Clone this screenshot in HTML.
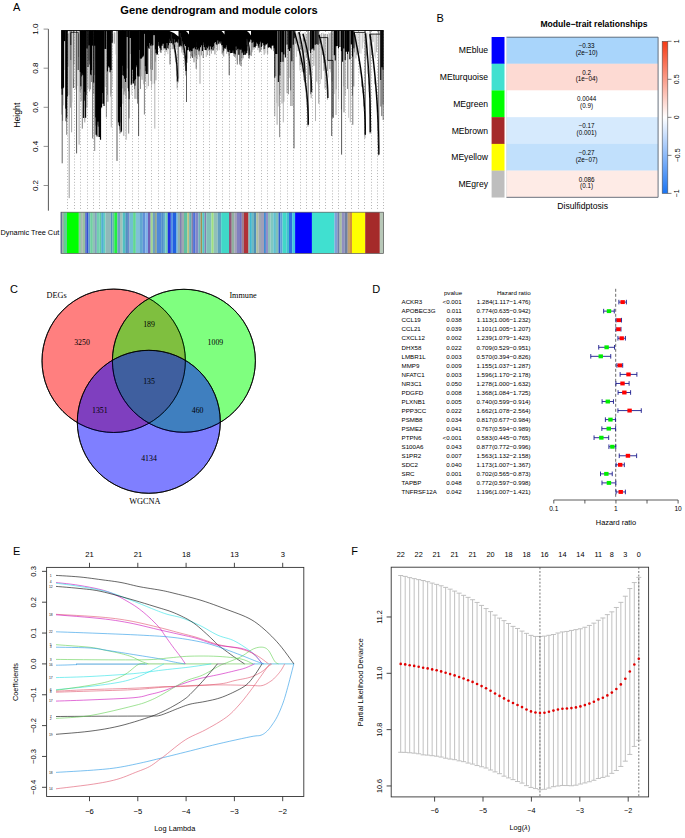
<!DOCTYPE html>
<html><head><meta charset="utf-8"><style>
html,body{margin:0;padding:0;background:#fff;width:685px;height:838px;overflow:hidden}
svg{display:block}
.F{font-family:"Liberation Sans",sans-serif}
.S{font-family:"Liberation Serif",serif}
</style></head><body>
<svg width="685" height="838" viewBox="0 0 685 838">
<rect width="685" height="838" fill="#fff"/>
<text x="13.00" y="11.20" font-size="11" text-anchor="start" class="F" fill="#000">A</text>
<text x="219.00" y="14.00" font-size="11.1" text-anchor="middle" class="F" font-weight="bold" fill="#000">Gene dendrogram and module colors</text>
<line x1="48.40" y1="29.10" x2="48.40" y2="210.70" stroke="#444" stroke-width="0.9"/>
<line x1="43.60" y1="185.50" x2="48.40" y2="185.50" stroke="#777" stroke-width="0.8"/>
<text x="38.00" y="185.50" font-size="8.0" text-anchor="middle" class="F" fill="#000" transform="rotate(-90 38.0 185.5)">0.2</text>
<line x1="43.60" y1="146.40" x2="48.40" y2="146.40" stroke="#777" stroke-width="0.8"/>
<text x="38.00" y="146.40" font-size="8.0" text-anchor="middle" class="F" fill="#000" transform="rotate(-90 38.0 146.4)">0.4</text>
<line x1="43.60" y1="107.30" x2="48.40" y2="107.30" stroke="#777" stroke-width="0.8"/>
<text x="38.00" y="107.30" font-size="8.0" text-anchor="middle" class="F" fill="#000" transform="rotate(-90 38.0 107.30000000000001)">0.6</text>
<line x1="43.60" y1="68.20" x2="48.40" y2="68.20" stroke="#777" stroke-width="0.8"/>
<text x="38.00" y="68.20" font-size="8.0" text-anchor="middle" class="F" fill="#000" transform="rotate(-90 38.0 68.19999999999997)">0.8</text>
<line x1="43.60" y1="29.10" x2="48.40" y2="29.10" stroke="#777" stroke-width="0.8"/>
<text x="38.00" y="29.10" font-size="8.0" text-anchor="middle" class="F" fill="#000" transform="rotate(-90 38.0 29.099999999999994)">1.0</text>
<text x="20.40" y="115.20" font-size="8.7" text-anchor="middle" class="F" fill="#000" transform="rotate(-90 20.4 115.2)">Height</text>
<line x1="67.50" y1="31.00" x2="67.50" y2="210.50" stroke="#B4B4B4" stroke-width="1.0" stroke-dasharray="1 1.9"/>
<line x1="74.50" y1="31.00" x2="74.50" y2="210.50" stroke="#B4B4B4" stroke-width="1.0" stroke-dasharray="1 1.9"/>
<line x1="80.50" y1="31.00" x2="80.50" y2="210.50" stroke="#B4B4B4" stroke-width="1.0" stroke-dasharray="1 1.9"/>
<line x1="87.50" y1="31.00" x2="87.50" y2="210.50" stroke="#B4B4B4" stroke-width="1.0" stroke-dasharray="1 1.9"/>
<line x1="93.50" y1="31.00" x2="93.50" y2="210.50" stroke="#B4B4B4" stroke-width="1.0" stroke-dasharray="1 1.9"/>
<line x1="99.50" y1="31.00" x2="99.50" y2="210.50" stroke="#B4B4B4" stroke-width="1.0" stroke-dasharray="1 1.9"/>
<line x1="106.50" y1="31.00" x2="106.50" y2="210.50" stroke="#B4B4B4" stroke-width="1.0" stroke-dasharray="1 1.9"/>
<line x1="112.50" y1="31.00" x2="112.50" y2="210.50" stroke="#B4B4B4" stroke-width="1.0" stroke-dasharray="1 1.9"/>
<line x1="119.50" y1="31.00" x2="119.50" y2="210.50" stroke="#B4B4B4" stroke-width="1.0" stroke-dasharray="1 1.9"/>
<line x1="125.50" y1="31.00" x2="125.50" y2="210.50" stroke="#B4B4B4" stroke-width="1.0" stroke-dasharray="1 1.9"/>
<line x1="132.50" y1="31.00" x2="132.50" y2="210.50" stroke="#B4B4B4" stroke-width="1.0" stroke-dasharray="1 1.9"/>
<line x1="138.50" y1="31.00" x2="138.50" y2="210.50" stroke="#B4B4B4" stroke-width="1.0" stroke-dasharray="1 1.9"/>
<line x1="145.50" y1="31.00" x2="145.50" y2="210.50" stroke="#B4B4B4" stroke-width="1.0" stroke-dasharray="1 1.9"/>
<line x1="151.50" y1="31.00" x2="151.50" y2="210.50" stroke="#B4B4B4" stroke-width="1.0" stroke-dasharray="1 1.9"/>
<line x1="158.50" y1="31.00" x2="158.50" y2="210.50" stroke="#B4B4B4" stroke-width="1.0" stroke-dasharray="1 1.9"/>
<line x1="164.50" y1="31.00" x2="164.50" y2="210.50" stroke="#B4B4B4" stroke-width="1.0" stroke-dasharray="1 1.9"/>
<line x1="170.50" y1="31.00" x2="170.50" y2="210.50" stroke="#B4B4B4" stroke-width="1.0" stroke-dasharray="1 1.9"/>
<line x1="177.50" y1="31.00" x2="177.50" y2="210.50" stroke="#B4B4B4" stroke-width="1.0" stroke-dasharray="1 1.9"/>
<line x1="183.50" y1="31.00" x2="183.50" y2="210.50" stroke="#B4B4B4" stroke-width="1.0" stroke-dasharray="1 1.9"/>
<line x1="190.50" y1="31.00" x2="190.50" y2="210.50" stroke="#B4B4B4" stroke-width="1.0" stroke-dasharray="1 1.9"/>
<line x1="196.50" y1="31.00" x2="196.50" y2="210.50" stroke="#B4B4B4" stroke-width="1.0" stroke-dasharray="1 1.9"/>
<line x1="203.50" y1="31.00" x2="203.50" y2="210.50" stroke="#B4B4B4" stroke-width="1.0" stroke-dasharray="1 1.9"/>
<line x1="209.50" y1="31.00" x2="209.50" y2="210.50" stroke="#B4B4B4" stroke-width="1.0" stroke-dasharray="1 1.9"/>
<line x1="216.50" y1="31.00" x2="216.50" y2="210.50" stroke="#B4B4B4" stroke-width="1.0" stroke-dasharray="1 1.9"/>
<line x1="222.50" y1="31.00" x2="222.50" y2="210.50" stroke="#B4B4B4" stroke-width="1.0" stroke-dasharray="1 1.9"/>
<line x1="229.50" y1="31.00" x2="229.50" y2="210.50" stroke="#B4B4B4" stroke-width="1.0" stroke-dasharray="1 1.9"/>
<line x1="235.50" y1="31.00" x2="235.50" y2="210.50" stroke="#B4B4B4" stroke-width="1.0" stroke-dasharray="1 1.9"/>
<line x1="241.50" y1="31.00" x2="241.50" y2="210.50" stroke="#B4B4B4" stroke-width="1.0" stroke-dasharray="1 1.9"/>
<line x1="248.50" y1="31.00" x2="248.50" y2="210.50" stroke="#B4B4B4" stroke-width="1.0" stroke-dasharray="1 1.9"/>
<line x1="254.50" y1="31.00" x2="254.50" y2="210.50" stroke="#B4B4B4" stroke-width="1.0" stroke-dasharray="1 1.9"/>
<line x1="261.50" y1="31.00" x2="261.50" y2="210.50" stroke="#B4B4B4" stroke-width="1.0" stroke-dasharray="1 1.9"/>
<line x1="267.50" y1="31.00" x2="267.50" y2="210.50" stroke="#B4B4B4" stroke-width="1.0" stroke-dasharray="1 1.9"/>
<line x1="274.50" y1="31.00" x2="274.50" y2="210.50" stroke="#B4B4B4" stroke-width="1.0" stroke-dasharray="1 1.9"/>
<line x1="280.50" y1="31.00" x2="280.50" y2="210.50" stroke="#B4B4B4" stroke-width="1.0" stroke-dasharray="1 1.9"/>
<line x1="287.50" y1="31.00" x2="287.50" y2="210.50" stroke="#B4B4B4" stroke-width="1.0" stroke-dasharray="1 1.9"/>
<line x1="293.50" y1="31.00" x2="293.50" y2="210.50" stroke="#B4B4B4" stroke-width="1.0" stroke-dasharray="1 1.9"/>
<line x1="300.50" y1="31.00" x2="300.50" y2="210.50" stroke="#B4B4B4" stroke-width="1.0" stroke-dasharray="1 1.9"/>
<line x1="306.50" y1="31.00" x2="306.50" y2="210.50" stroke="#B4B4B4" stroke-width="1.0" stroke-dasharray="1 1.9"/>
<line x1="312.50" y1="31.00" x2="312.50" y2="210.50" stroke="#B4B4B4" stroke-width="1.0" stroke-dasharray="1 1.9"/>
<line x1="319.50" y1="31.00" x2="319.50" y2="210.50" stroke="#B4B4B4" stroke-width="1.0" stroke-dasharray="1 1.9"/>
<line x1="325.50" y1="31.00" x2="325.50" y2="210.50" stroke="#B4B4B4" stroke-width="1.0" stroke-dasharray="1 1.9"/>
<line x1="332.50" y1="31.00" x2="332.50" y2="210.50" stroke="#B4B4B4" stroke-width="1.0" stroke-dasharray="1 1.9"/>
<line x1="338.50" y1="31.00" x2="338.50" y2="210.50" stroke="#B4B4B4" stroke-width="1.0" stroke-dasharray="1 1.9"/>
<line x1="345.50" y1="31.00" x2="345.50" y2="210.50" stroke="#B4B4B4" stroke-width="1.0" stroke-dasharray="1 1.9"/>
<line x1="351.50" y1="31.00" x2="351.50" y2="210.50" stroke="#B4B4B4" stroke-width="1.0" stroke-dasharray="1 1.9"/>
<line x1="358.50" y1="31.00" x2="358.50" y2="210.50" stroke="#B4B4B4" stroke-width="1.0" stroke-dasharray="1 1.9"/>
<line x1="364.50" y1="31.00" x2="364.50" y2="210.50" stroke="#B4B4B4" stroke-width="1.0" stroke-dasharray="1 1.9"/>
<line x1="371.50" y1="31.00" x2="371.50" y2="210.50" stroke="#B4B4B4" stroke-width="1.0" stroke-dasharray="1 1.9"/>
<line x1="377.50" y1="31.00" x2="377.50" y2="210.50" stroke="#B4B4B4" stroke-width="1.0" stroke-dasharray="1 1.9"/>
<line x1="383.50" y1="31.00" x2="383.50" y2="210.50" stroke="#B4B4B4" stroke-width="1.0" stroke-dasharray="1 1.9"/>
<line x1="62.20" y1="30.50" x2="62.20" y2="163.30" stroke="#333" stroke-width="0.75"/>
<line x1="69.20" y1="30.50" x2="69.20" y2="198.10" stroke="#777" stroke-width="0.75"/>
<line x1="66.70" y1="30.50" x2="66.70" y2="134.80" stroke="#555" stroke-width="0.75"/>
<line x1="71.60" y1="30.50" x2="71.60" y2="132.30" stroke="#888" stroke-width="0.75"/>
<line x1="76.60" y1="30.50" x2="76.60" y2="153.40" stroke="#222" stroke-width="0.75"/>
<line x1="79.10" y1="30.50" x2="79.10" y2="144.70" stroke="#888" stroke-width="0.75"/>
<line x1="82.30" y1="30.50" x2="82.30" y2="128.60" stroke="#555" stroke-width="0.75"/>
<line x1="84.80" y1="30.50" x2="84.80" y2="122.40" stroke="#777" stroke-width="0.75"/>
<line x1="92.70" y1="30.50" x2="92.70" y2="138.50" stroke="#333" stroke-width="0.75"/>
<line x1="94.70" y1="30.50" x2="94.70" y2="151.00" stroke="#666" stroke-width="0.75"/>
<line x1="97.70" y1="30.50" x2="97.70" y2="124.90" stroke="#555" stroke-width="0.75"/>
<line x1="106.40" y1="30.50" x2="106.40" y2="117.40" stroke="#666" stroke-width="0.75"/>
<line x1="111.30" y1="30.50" x2="111.30" y2="127.40" stroke="#999" stroke-width="0.75"/>
<line x1="117.00" y1="30.50" x2="117.00" y2="160.90" stroke="#222" stroke-width="0.75"/>
<line x1="120.00" y1="30.50" x2="120.00" y2="133.60" stroke="#555" stroke-width="0.75"/>
<line x1="123.80" y1="30.50" x2="123.80" y2="136.00" stroke="#888" stroke-width="0.75"/>
<line x1="126.20" y1="30.50" x2="126.20" y2="139.80" stroke="#999" stroke-width="0.75"/>
<line x1="128.70" y1="30.50" x2="128.70" y2="133.60" stroke="#555" stroke-width="0.75"/>
<line x1="138.60" y1="30.50" x2="138.60" y2="136.00" stroke="#222" stroke-width="0.75"/>
<line x1="144.40" y1="30.50" x2="144.40" y2="114.50" stroke="#555" stroke-width="0.75"/>
<line x1="154.80" y1="30.50" x2="154.80" y2="128.60" stroke="#999" stroke-width="0.75"/>
<line x1="73.40" y1="30.50" x2="73.40" y2="88.00" stroke="#222" stroke-width="0.75"/>
<line x1="70.80" y1="30.50" x2="70.80" y2="60.00" stroke="#222" stroke-width="0.75"/>
<line x1="170.00" y1="30.50" x2="170.00" y2="64.50" stroke="#333" stroke-width="0.75"/>
<line x1="178.00" y1="30.50" x2="178.00" y2="82.70" stroke="#888" stroke-width="0.75"/>
<line x1="186.50" y1="30.50" x2="186.50" y2="102.00" stroke="#222" stroke-width="0.75"/>
<line x1="192.50" y1="30.50" x2="192.50" y2="58.00" stroke="#333" stroke-width="0.75"/>
<line x1="194.00" y1="30.50" x2="194.00" y2="62.30" stroke="#555" stroke-width="0.75"/>
<line x1="196.20" y1="30.50" x2="196.20" y2="68.80" stroke="#444" stroke-width="0.75"/>
<line x1="200.00" y1="30.50" x2="200.00" y2="83.80" stroke="#888" stroke-width="0.75"/>
<line x1="203.20" y1="30.50" x2="203.20" y2="58.00" stroke="#444" stroke-width="0.75"/>
<line x1="222.20" y1="30.50" x2="222.20" y2="53.80" stroke="#333" stroke-width="0.75"/>
<line x1="229.20" y1="30.50" x2="229.20" y2="75.20" stroke="#222" stroke-width="0.75"/>
<line x1="233.00" y1="30.50" x2="233.00" y2="52.70" stroke="#333" stroke-width="0.75"/>
<line x1="237.30" y1="30.50" x2="237.30" y2="64.50" stroke="#444" stroke-width="0.75"/>
<line x1="241.00" y1="30.50" x2="241.00" y2="66.00" stroke="#333" stroke-width="0.75"/>
<line x1="239.70" y1="30.50" x2="239.70" y2="64.50" stroke="#555" stroke-width="0.75"/>
<line x1="251.20" y1="30.50" x2="251.20" y2="55.90" stroke="#444" stroke-width="0.75"/>
<line x1="277.10" y1="30.50" x2="277.10" y2="124.80" stroke="#888" stroke-width="0.75"/>
<line x1="279.60" y1="30.50" x2="279.60" y2="137.20" stroke="#666" stroke-width="0.75"/>
<line x1="283.30" y1="30.50" x2="283.30" y2="122.30" stroke="#999" stroke-width="0.75"/>
<line x1="294.00" y1="30.50" x2="294.00" y2="148.40" stroke="#222" stroke-width="0.75"/>
<line x1="290.50" y1="30.50" x2="290.50" y2="106.00" stroke="#999" stroke-width="0.75"/>
<line x1="292.00" y1="30.50" x2="292.00" y2="106.00" stroke="#555" stroke-width="0.75"/>
<line x1="308.10" y1="30.50" x2="308.10" y2="124.80" stroke="#222" stroke-width="0.75"/>
<line x1="315.50" y1="30.50" x2="315.50" y2="121.10" stroke="#999" stroke-width="0.75"/>
<line x1="318.80" y1="30.50" x2="318.80" y2="103.70" stroke="#777" stroke-width="0.75"/>
<line x1="331.70" y1="30.50" x2="331.70" y2="136.00" stroke="#222" stroke-width="0.75"/>
<line x1="333.00" y1="30.50" x2="333.00" y2="117.00" stroke="#666" stroke-width="0.75"/>
<line x1="336.00" y1="30.50" x2="336.00" y2="115.00" stroke="#888" stroke-width="0.75"/>
<line x1="341.60" y1="30.50" x2="341.60" y2="154.60" stroke="#222" stroke-width="0.75"/>
<line x1="344.00" y1="30.50" x2="344.00" y2="112.40" stroke="#555" stroke-width="0.75"/>
<line x1="350.30" y1="30.50" x2="350.30" y2="122.30" stroke="#999" stroke-width="0.75"/>
<line x1="352.80" y1="30.50" x2="352.80" y2="124.80" stroke="#444" stroke-width="0.75"/>
<line x1="365.20" y1="30.50" x2="365.20" y2="134.70" stroke="#222" stroke-width="0.75"/>
<line x1="370.10" y1="30.50" x2="370.10" y2="132.30" stroke="#444" stroke-width="0.75"/>
<line x1="378.80" y1="30.50" x2="378.80" y2="154.60" stroke="#222" stroke-width="0.75"/>
<line x1="381.80" y1="30.50" x2="381.80" y2="116.10" stroke="#333" stroke-width="0.75"/>
<line x1="383.20" y1="30.50" x2="383.20" y2="120.00" stroke="#444" stroke-width="0.75"/>
<line x1="61.65" y1="88.75" x2="61.65" y2="114.57" stroke="#777" stroke-width="0.6"/>
<line x1="62.17" y1="94.72" x2="62.17" y2="106.34" stroke="#999" stroke-width="0.6"/>
<line x1="62.58" y1="75.83" x2="62.58" y2="120.80" stroke="#333" stroke-width="0.6"/>
<line x1="63.58" y1="87.24" x2="63.58" y2="105.32" stroke="#AAA" stroke-width="0.6"/>
<line x1="64.73" y1="41.13" x2="64.73" y2="70.01" stroke="#AAA" stroke-width="0.6"/>
<line x1="65.70" y1="108.81" x2="65.70" y2="121.24" stroke="#333" stroke-width="0.6"/>
<line x1="66.21" y1="108.19" x2="66.21" y2="120.83" stroke="#777" stroke-width="0.6"/>
<line x1="66.70" y1="117.67" x2="66.70" y2="122.09" stroke="#555" stroke-width="0.6"/>
<line x1="68.00" y1="33.82" x2="68.00" y2="66.61" stroke="#555" stroke-width="0.6"/>
<line x1="68.98" y1="33.05" x2="68.98" y2="95.05" stroke="#888" stroke-width="0.6"/>
<line x1="70.54" y1="33.05" x2="70.54" y2="107.66" stroke="#555" stroke-width="0.6"/>
<line x1="71.97" y1="33.43" x2="71.97" y2="102.37" stroke="#AAA" stroke-width="0.6"/>
<line x1="73.11" y1="32.88" x2="73.11" y2="78.95" stroke="#BBB" stroke-width="0.6"/>
<line x1="74.06" y1="32.23" x2="74.06" y2="64.58" stroke="#555" stroke-width="0.6"/>
<line x1="75.00" y1="33.75" x2="75.00" y2="88.48" stroke="#BBB" stroke-width="0.6"/>
<line x1="76.10" y1="32.96" x2="76.10" y2="89.58" stroke="#555" stroke-width="0.6"/>
<line x1="77.66" y1="32.89" x2="77.66" y2="86.00" stroke="#BBB" stroke-width="0.6"/>
<line x1="78.60" y1="33.92" x2="78.60" y2="57.01" stroke="#888" stroke-width="0.6"/>
<line x1="80.25" y1="72.12" x2="80.25" y2="91.84" stroke="#555" stroke-width="0.6"/>
<line x1="80.81" y1="86.35" x2="80.81" y2="101.50" stroke="#777" stroke-width="0.6"/>
<line x1="81.35" y1="76.49" x2="81.35" y2="89.20" stroke="#555" stroke-width="0.6"/>
<line x1="81.80" y1="73.49" x2="81.80" y2="100.92" stroke="#777" stroke-width="0.6"/>
<line x1="82.78" y1="75.23" x2="82.78" y2="108.38" stroke="#AAA" stroke-width="0.6"/>
<line x1="84.16" y1="100.77" x2="84.16" y2="107.92" stroke="#999" stroke-width="0.6"/>
<line x1="84.57" y1="90.55" x2="84.57" y2="99.42" stroke="#777" stroke-width="0.6"/>
<line x1="86.02" y1="94.89" x2="86.02" y2="107.62" stroke="#777" stroke-width="0.6"/>
<line x1="87.09" y1="48.52" x2="87.09" y2="107.52" stroke="#888" stroke-width="0.6"/>
<line x1="88.05" y1="66.99" x2="88.05" y2="88.83" stroke="#555" stroke-width="0.6"/>
<line x1="89.53" y1="45.44" x2="89.53" y2="91.49" stroke="#666" stroke-width="0.6"/>
<line x1="89.00" y1="33.90" x2="89.00" y2="60.69" stroke="#555" stroke-width="0.6"/>
<line x1="90.56" y1="74.57" x2="90.56" y2="89.36" stroke="#555" stroke-width="0.6"/>
<line x1="91.56" y1="70.23" x2="91.56" y2="82.01" stroke="#333" stroke-width="0.6"/>
<line x1="92.72" y1="45.63" x2="92.72" y2="76.13" stroke="#AAA" stroke-width="0.6"/>
<line x1="93.71" y1="82.84" x2="93.71" y2="93.93" stroke="#555" stroke-width="0.6"/>
<line x1="95.17" y1="45.72" x2="95.17" y2="60.81" stroke="#AAA" stroke-width="0.6"/>
<line x1="94.40" y1="32.86" x2="94.40" y2="75.12" stroke="#555" stroke-width="0.6"/>
<line x1="95.65" y1="117.51" x2="95.65" y2="125.60" stroke="#777" stroke-width="0.6"/>
<line x1="98.03" y1="121.86" x2="98.03" y2="126.78" stroke="#555" stroke-width="0.6"/>
<line x1="98.54" y1="104.67" x2="98.54" y2="126.55" stroke="#333" stroke-width="0.6"/>
<line x1="99.50" y1="116.00" x2="99.50" y2="123.82" stroke="#777" stroke-width="0.6"/>
<line x1="101.05" y1="92.74" x2="101.05" y2="108.69" stroke="#999" stroke-width="0.6"/>
<line x1="103.54" y1="90.44" x2="103.54" y2="99.19" stroke="#333" stroke-width="0.6"/>
<line x1="105.43" y1="48.95" x2="105.43" y2="86.99" stroke="#AAA" stroke-width="0.6"/>
<line x1="105.40" y1="32.69" x2="105.40" y2="73.52" stroke="#BBB" stroke-width="0.6"/>
<line x1="106.66" y1="32.62" x2="106.66" y2="74.30" stroke="#AAA" stroke-width="0.6"/>
<line x1="107.45" y1="71.60" x2="107.45" y2="94.82" stroke="#777" stroke-width="0.6"/>
<line x1="107.86" y1="67.94" x2="107.86" y2="101.81" stroke="#333" stroke-width="0.6"/>
<line x1="110.62" y1="66.54" x2="110.62" y2="96.59" stroke="#777" stroke-width="0.6"/>
<line x1="111.10" y1="70.00" x2="111.10" y2="93.36" stroke="#777" stroke-width="0.6"/>
<line x1="112.12" y1="42.87" x2="112.12" y2="85.95" stroke="#AAA" stroke-width="0.6"/>
<line x1="112.70" y1="34.40" x2="112.70" y2="41.83" stroke="#888" stroke-width="0.6"/>
<line x1="114.28" y1="32.26" x2="114.28" y2="43.70" stroke="#555" stroke-width="0.6"/>
<line x1="115.81" y1="32.45" x2="115.81" y2="54.62" stroke="#BBB" stroke-width="0.6"/>
<line x1="117.31" y1="33.69" x2="117.31" y2="58.86" stroke="#BBB" stroke-width="0.6"/>
<line x1="118.45" y1="122.55" x2="118.45" y2="125.09" stroke="#555" stroke-width="0.6"/>
<line x1="119.46" y1="126.17" x2="119.46" y2="129.61" stroke="#333" stroke-width="0.6"/>
<line x1="119.91" y1="101.87" x2="119.91" y2="129.89" stroke="#999" stroke-width="0.6"/>
<line x1="120.50" y1="107.09" x2="120.50" y2="122.41" stroke="#555" stroke-width="0.6"/>
<line x1="122.75" y1="61.28" x2="122.75" y2="88.45" stroke="#666" stroke-width="0.6"/>
<line x1="122.85" y1="75.06" x2="122.85" y2="103.83" stroke="#999" stroke-width="0.6"/>
<line x1="123.97" y1="71.21" x2="123.97" y2="94.61" stroke="#555" stroke-width="0.6"/>
<line x1="125.02" y1="71.95" x2="125.02" y2="91.51" stroke="#333" stroke-width="0.6"/>
<line x1="125.54" y1="81.88" x2="125.54" y2="95.47" stroke="#999" stroke-width="0.6"/>
<line x1="126.12" y1="77.98" x2="126.12" y2="98.65" stroke="#777" stroke-width="0.6"/>
<line x1="127.16" y1="37.03" x2="127.16" y2="68.42" stroke="#888" stroke-width="0.6"/>
<line x1="128.66" y1="91.18" x2="128.66" y2="108.66" stroke="#999" stroke-width="0.6"/>
<line x1="129.11" y1="99.32" x2="129.11" y2="118.45" stroke="#333" stroke-width="0.6"/>
<line x1="130.27" y1="38.01" x2="130.27" y2="54.03" stroke="#888" stroke-width="0.6"/>
<line x1="129.90" y1="33.57" x2="129.90" y2="48.67" stroke="#CCC" stroke-width="0.6"/>
<line x1="131.80" y1="83.35" x2="131.80" y2="95.15" stroke="#AAA" stroke-width="0.6"/>
<line x1="134.51" y1="80.66" x2="134.51" y2="89.13" stroke="#555" stroke-width="0.6"/>
<line x1="135.04" y1="85.86" x2="135.04" y2="98.88" stroke="#333" stroke-width="0.6"/>
<line x1="137.06" y1="65.49" x2="137.06" y2="99.14" stroke="#555" stroke-width="0.6"/>
<line x1="137.51" y1="75.82" x2="137.51" y2="103.63" stroke="#333" stroke-width="0.6"/>
<line x1="138.53" y1="75.69" x2="138.53" y2="88.31" stroke="#777" stroke-width="0.6"/>
<line x1="140.23" y1="49.94" x2="140.23" y2="69.42" stroke="#666" stroke-width="0.6"/>
<line x1="140.45" y1="58.60" x2="140.45" y2="88.92" stroke="#333" stroke-width="0.6"/>
<line x1="141.05" y1="58.98" x2="141.05" y2="76.27" stroke="#999" stroke-width="0.6"/>
<line x1="142.05" y1="57.81" x2="142.05" y2="79.79" stroke="#555" stroke-width="0.6"/>
<line x1="143.44" y1="55.82" x2="143.44" y2="84.26" stroke="#999" stroke-width="0.6"/>
<line x1="144.53" y1="33.85" x2="144.53" y2="70.98" stroke="#888" stroke-width="0.6"/>
<line x1="145.44" y1="66.01" x2="145.44" y2="81.78" stroke="#777" stroke-width="0.6"/>
<line x1="146.85" y1="64.05" x2="146.85" y2="88.75" stroke="#AAA" stroke-width="0.6"/>
<line x1="148.36" y1="42.55" x2="148.36" y2="86.13" stroke="#666" stroke-width="0.6"/>
<line x1="147.95" y1="45.89" x2="147.95" y2="71.77" stroke="#999" stroke-width="0.6"/>
<line x1="150.57" y1="45.87" x2="150.57" y2="69.33" stroke="#777" stroke-width="0.6"/>
<line x1="151.05" y1="44.34" x2="151.05" y2="80.95" stroke="#333" stroke-width="0.6"/>
<line x1="151.48" y1="43.84" x2="151.48" y2="88.83" stroke="#999" stroke-width="0.6"/>
<line x1="151.99" y1="45.75" x2="151.99" y2="84.21" stroke="#999" stroke-width="0.6"/>
<line x1="152.42" y1="44.04" x2="152.42" y2="69.91" stroke="#333" stroke-width="0.6"/>
<line x1="154.26" y1="35.18" x2="154.26" y2="83.74" stroke="#666" stroke-width="0.6"/>
<line x1="155.45" y1="49.49" x2="155.45" y2="61.68" stroke="#888" stroke-width="0.6"/>
<line x1="155.92" y1="53.30" x2="155.92" y2="80.35" stroke="#666" stroke-width="0.6"/>
<line x1="160.18" y1="48.57" x2="160.18" y2="51.46" stroke="#444" stroke-width="0.6"/>
<line x1="160.64" y1="42.54" x2="160.64" y2="52.57" stroke="#444" stroke-width="0.6"/>
<line x1="161.10" y1="50.12" x2="161.10" y2="52.96" stroke="#444" stroke-width="0.6"/>
<line x1="162.14" y1="45.77" x2="162.14" y2="50.61" stroke="#AAA" stroke-width="0.6"/>
<line x1="163.53" y1="41.67" x2="163.53" y2="50.19" stroke="#AAA" stroke-width="0.6"/>
<line x1="165.13" y1="48.42" x2="165.13" y2="55.75" stroke="#AAA" stroke-width="0.6"/>
<line x1="166.23" y1="49.92" x2="166.23" y2="51.85" stroke="#666" stroke-width="0.6"/>
<line x1="167.23" y1="42.40" x2="167.23" y2="48.06" stroke="#666" stroke-width="0.6"/>
<line x1="167.82" y1="48.29" x2="167.82" y2="54.19" stroke="#AAA" stroke-width="0.6"/>
<line x1="168.42" y1="45.46" x2="168.42" y2="49.20" stroke="#444" stroke-width="0.6"/>
<line x1="172.21" y1="43.51" x2="172.21" y2="49.15" stroke="#444" stroke-width="0.6"/>
<line x1="172.75" y1="39.84" x2="172.75" y2="44.43" stroke="#444" stroke-width="0.6"/>
<line x1="175.73" y1="42.59" x2="175.73" y2="46.88" stroke="#444" stroke-width="0.6"/>
<line x1="176.65" y1="41.78" x2="176.65" y2="49.64" stroke="#AAA" stroke-width="0.6"/>
<line x1="178.21" y1="39.61" x2="178.21" y2="59.87" stroke="#888" stroke-width="0.6"/>
<line x1="178.66" y1="39.40" x2="178.66" y2="78.55" stroke="#666" stroke-width="0.6"/>
<line x1="180.71" y1="41.45" x2="180.71" y2="47.31" stroke="#666" stroke-width="0.6"/>
<line x1="181.74" y1="46.34" x2="181.74" y2="52.55" stroke="#888" stroke-width="0.6"/>
<line x1="182.22" y1="40.31" x2="182.22" y2="47.34" stroke="#666" stroke-width="0.6"/>
<line x1="187.71" y1="50.34" x2="187.71" y2="58.60" stroke="#AAA" stroke-width="0.6"/>
<line x1="190.56" y1="50.21" x2="190.56" y2="58.53" stroke="#666" stroke-width="0.6"/>
<line x1="191.50" y1="51.34" x2="191.50" y2="56.12" stroke="#666" stroke-width="0.6"/>
<line x1="192.04" y1="50.93" x2="192.04" y2="57.22" stroke="#444" stroke-width="0.6"/>
<line x1="193.06" y1="48.48" x2="193.06" y2="53.94" stroke="#AAA" stroke-width="0.6"/>
<line x1="193.55" y1="46.39" x2="193.55" y2="56.37" stroke="#AAA" stroke-width="0.6"/>
<line x1="194.60" y1="46.01" x2="194.60" y2="53.72" stroke="#888" stroke-width="0.6"/>
<line x1="195.09" y1="47.10" x2="195.09" y2="56.72" stroke="#444" stroke-width="0.6"/>
<line x1="195.55" y1="49.18" x2="195.55" y2="58.12" stroke="#AAA" stroke-width="0.6"/>
<line x1="196.11" y1="42.31" x2="196.11" y2="55.22" stroke="#444" stroke-width="0.6"/>
<line x1="197.61" y1="49.54" x2="197.61" y2="59.24" stroke="#888" stroke-width="0.6"/>
<line x1="198.62" y1="48.15" x2="198.62" y2="54.79" stroke="#666" stroke-width="0.6"/>
<line x1="199.49" y1="49.82" x2="199.49" y2="56.66" stroke="#888" stroke-width="0.6"/>
<line x1="201.37" y1="42.86" x2="201.37" y2="55.38" stroke="#444" stroke-width="0.6"/>
<line x1="206.25" y1="50.34" x2="206.25" y2="57.04" stroke="#888" stroke-width="0.6"/>
<line x1="207.20" y1="41.35" x2="207.20" y2="46.64" stroke="#666" stroke-width="0.6"/>
<line x1="207.61" y1="48.59" x2="207.61" y2="55.04" stroke="#666" stroke-width="0.6"/>
<line x1="208.61" y1="42.97" x2="208.61" y2="50.64" stroke="#444" stroke-width="0.6"/>
<line x1="209.65" y1="49.83" x2="209.65" y2="56.03" stroke="#666" stroke-width="0.6"/>
<line x1="210.07" y1="43.51" x2="210.07" y2="51.26" stroke="#888" stroke-width="0.6"/>
<line x1="211.47" y1="49.53" x2="211.47" y2="53.62" stroke="#666" stroke-width="0.6"/>
<line x1="213.46" y1="46.28" x2="213.46" y2="50.02" stroke="#666" stroke-width="0.6"/>
<line x1="214.51" y1="42.69" x2="214.51" y2="48.43" stroke="#666" stroke-width="0.6"/>
<line x1="214.94" y1="41.62" x2="214.94" y2="54.48" stroke="#444" stroke-width="0.6"/>
<line x1="217.26" y1="39.32" x2="217.26" y2="50.65" stroke="#444" stroke-width="0.6"/>
<line x1="217.79" y1="40.53" x2="217.79" y2="44.76" stroke="#666" stroke-width="0.6"/>
<line x1="219.19" y1="41.83" x2="219.19" y2="50.19" stroke="#AAA" stroke-width="0.6"/>
<line x1="221.21" y1="38.92" x2="221.21" y2="43.72" stroke="#666" stroke-width="0.6"/>
<line x1="223.25" y1="47.61" x2="223.25" y2="52.57" stroke="#444" stroke-width="0.6"/>
<line x1="223.73" y1="50.87" x2="223.73" y2="56.52" stroke="#444" stroke-width="0.6"/>
<line x1="226.78" y1="44.34" x2="226.78" y2="53.83" stroke="#666" stroke-width="0.6"/>
<line x1="228.84" y1="51.90" x2="228.84" y2="55.78" stroke="#666" stroke-width="0.6"/>
<line x1="230.25" y1="50.53" x2="230.25" y2="53.85" stroke="#AAA" stroke-width="0.6"/>
<line x1="231.25" y1="46.74" x2="231.25" y2="52.14" stroke="#AAA" stroke-width="0.6"/>
<line x1="233.78" y1="53.38" x2="233.78" y2="56.06" stroke="#666" stroke-width="0.6"/>
<line x1="234.80" y1="53.78" x2="234.80" y2="56.98" stroke="#444" stroke-width="0.6"/>
<line x1="235.30" y1="54.27" x2="235.30" y2="56.81" stroke="#666" stroke-width="0.6"/>
<line x1="236.25" y1="46.49" x2="236.25" y2="60.34" stroke="#AAA" stroke-width="0.6"/>
<line x1="238.43" y1="48.31" x2="238.43" y2="55.05" stroke="#AAA" stroke-width="0.6"/>
<line x1="239.36" y1="45.43" x2="239.36" y2="55.05" stroke="#666" stroke-width="0.6"/>
<line x1="239.95" y1="49.56" x2="239.95" y2="61.39" stroke="#444" stroke-width="0.6"/>
<line x1="241.64" y1="49.63" x2="241.64" y2="58.09" stroke="#666" stroke-width="0.6"/>
<line x1="242.13" y1="53.32" x2="242.13" y2="60.20" stroke="#888" stroke-width="0.6"/>
<line x1="243.14" y1="51.81" x2="243.14" y2="58.32" stroke="#444" stroke-width="0.6"/>
<line x1="244.74" y1="51.56" x2="244.74" y2="54.77" stroke="#444" stroke-width="0.6"/>
<line x1="245.19" y1="45.34" x2="245.19" y2="53.06" stroke="#AAA" stroke-width="0.6"/>
<line x1="247.83" y1="46.51" x2="247.83" y2="50.91" stroke="#666" stroke-width="0.6"/>
<line x1="252.06" y1="43.10" x2="252.06" y2="52.31" stroke="#666" stroke-width="0.6"/>
<line x1="252.53" y1="40.29" x2="252.53" y2="47.18" stroke="#888" stroke-width="0.6"/>
<line x1="253.01" y1="42.03" x2="253.01" y2="49.86" stroke="#666" stroke-width="0.6"/>
<line x1="253.57" y1="40.83" x2="253.57" y2="47.54" stroke="#444" stroke-width="0.6"/>
<line x1="254.66" y1="43.26" x2="254.66" y2="48.34" stroke="#AAA" stroke-width="0.6"/>
<line x1="256.80" y1="41.53" x2="256.80" y2="45.92" stroke="#444" stroke-width="0.6"/>
<line x1="257.85" y1="42.89" x2="257.85" y2="50.10" stroke="#888" stroke-width="0.6"/>
<line x1="259.40" y1="44.17" x2="259.40" y2="52.57" stroke="#666" stroke-width="0.6"/>
<line x1="260.32" y1="40.79" x2="260.32" y2="51.85" stroke="#444" stroke-width="0.6"/>
<line x1="260.89" y1="42.55" x2="260.89" y2="50.40" stroke="#888" stroke-width="0.6"/>
<line x1="261.34" y1="47.03" x2="261.34" y2="49.70" stroke="#666" stroke-width="0.6"/>
<line x1="263.73" y1="44.88" x2="263.73" y2="50.52" stroke="#AAA" stroke-width="0.6"/>
<line x1="264.16" y1="49.06" x2="264.16" y2="54.81" stroke="#666" stroke-width="0.6"/>
<line x1="265.20" y1="45.58" x2="265.20" y2="48.81" stroke="#888" stroke-width="0.6"/>
<line x1="265.75" y1="40.78" x2="265.75" y2="53.33" stroke="#AAA" stroke-width="0.6"/>
<line x1="267.66" y1="43.16" x2="267.66" y2="54.09" stroke="#666" stroke-width="0.6"/>
<line x1="271.54" y1="45.78" x2="271.54" y2="49.79" stroke="#666" stroke-width="0.6"/>
<line x1="273.60" y1="40.91" x2="273.60" y2="51.13" stroke="#444" stroke-width="0.6"/>
<line x1="274.80" y1="77.85" x2="274.80" y2="116.28" stroke="#666" stroke-width="0.6"/>
<line x1="275.88" y1="53.99" x2="275.88" y2="76.05" stroke="#333" stroke-width="0.6"/>
<line x1="276.80" y1="53.90" x2="276.80" y2="102.90" stroke="#AAA" stroke-width="0.6"/>
<line x1="278.36" y1="82.05" x2="278.36" y2="106.44" stroke="#AAA" stroke-width="0.6"/>
<line x1="279.91" y1="75.50" x2="279.91" y2="94.84" stroke="#666" stroke-width="0.6"/>
<line x1="281.98" y1="52.37" x2="281.98" y2="103.56" stroke="#666" stroke-width="0.6"/>
<line x1="283.94" y1="54.38" x2="283.94" y2="101.72" stroke="#888" stroke-width="0.6"/>
<line x1="286.98" y1="44.84" x2="286.98" y2="93.21" stroke="#666" stroke-width="0.6"/>
<line x1="288.35" y1="49.50" x2="288.35" y2="94.25" stroke="#333" stroke-width="0.6"/>
<line x1="289.58" y1="50.90" x2="289.58" y2="77.95" stroke="#AAA" stroke-width="0.6"/>
<line x1="290.60" y1="48.35" x2="290.60" y2="90.39" stroke="#333" stroke-width="0.6"/>
<line x1="293.30" y1="44.87" x2="293.30" y2="69.28" stroke="#888" stroke-width="0.6"/>
<line x1="294.82" y1="38.34" x2="294.82" y2="49.91" stroke="#AAA" stroke-width="0.6"/>
<line x1="296.40" y1="33.57" x2="296.40" y2="56.85" stroke="#AAA" stroke-width="0.6"/>
<line x1="297.53" y1="32.58" x2="297.53" y2="44.99" stroke="#AAA" stroke-width="0.6"/>
<line x1="298.53" y1="32.55" x2="298.53" y2="42.97" stroke="#BBB" stroke-width="0.6"/>
<line x1="299.81" y1="32.36" x2="299.81" y2="70.59" stroke="#AAA" stroke-width="0.6"/>
<line x1="301.01" y1="32.62" x2="301.01" y2="41.96" stroke="#CCC" stroke-width="0.6"/>
<line x1="302.49" y1="32.84" x2="302.49" y2="46.93" stroke="#BBB" stroke-width="0.6"/>
<line x1="303.47" y1="33.14" x2="303.47" y2="57.67" stroke="#888" stroke-width="0.6"/>
<line x1="305.06" y1="32.14" x2="305.06" y2="71.40" stroke="#888" stroke-width="0.6"/>
<line x1="306.35" y1="34.09" x2="306.35" y2="46.17" stroke="#888" stroke-width="0.6"/>
<line x1="307.93" y1="33.08" x2="307.93" y2="50.23" stroke="#888" stroke-width="0.6"/>
<line x1="309.47" y1="32.24" x2="309.47" y2="50.69" stroke="#888" stroke-width="0.6"/>
<line x1="310.60" y1="53.09" x2="310.60" y2="94.28" stroke="#333" stroke-width="0.6"/>
<line x1="311.81" y1="49.61" x2="311.81" y2="74.78" stroke="#888" stroke-width="0.6"/>
<line x1="313.89" y1="50.62" x2="313.89" y2="65.89" stroke="#666" stroke-width="0.6"/>
<line x1="315.29" y1="44.66" x2="315.29" y2="58.25" stroke="#AAA" stroke-width="0.6"/>
<line x1="316.72" y1="44.32" x2="316.72" y2="81.62" stroke="#666" stroke-width="0.6"/>
<line x1="318.03" y1="44.75" x2="318.03" y2="84.25" stroke="#AAA" stroke-width="0.6"/>
<line x1="319.40" y1="34.29" x2="319.40" y2="68.54" stroke="#AAA" stroke-width="0.6"/>
<line x1="320.53" y1="34.10" x2="320.53" y2="83.94" stroke="#BBB" stroke-width="0.6"/>
<line x1="321.50" y1="33.02" x2="321.50" y2="79.20" stroke="#888" stroke-width="0.6"/>
<line x1="323.01" y1="32.67" x2="323.01" y2="52.67" stroke="#AAA" stroke-width="0.6"/>
<line x1="323.93" y1="33.76" x2="323.93" y2="70.87" stroke="#555" stroke-width="0.6"/>
<line x1="325.08" y1="34.33" x2="325.08" y2="88.61" stroke="#555" stroke-width="0.6"/>
<line x1="326.07" y1="33.79" x2="326.07" y2="81.75" stroke="#AAA" stroke-width="0.6"/>
<line x1="327.51" y1="34.17" x2="327.51" y2="71.08" stroke="#555" stroke-width="0.6"/>
<line x1="328.62" y1="32.27" x2="328.62" y2="77.57" stroke="#BBB" stroke-width="0.6"/>
<line x1="329.88" y1="33.33" x2="329.88" y2="69.02" stroke="#555" stroke-width="0.6"/>
<line x1="330.95" y1="32.22" x2="330.95" y2="72.39" stroke="#888" stroke-width="0.6"/>
<line x1="331.92" y1="32.63" x2="331.92" y2="81.61" stroke="#555" stroke-width="0.6"/>
<line x1="332.83" y1="34.32" x2="332.83" y2="78.36" stroke="#AAA" stroke-width="0.6"/>
<line x1="334.30" y1="55.27" x2="334.30" y2="94.06" stroke="#AAA" stroke-width="0.6"/>
<line x1="336.20" y1="46.13" x2="336.20" y2="89.30" stroke="#888" stroke-width="0.6"/>
<line x1="338.46" y1="48.14" x2="338.46" y2="99.49" stroke="#AAA" stroke-width="0.6"/>
<line x1="341.44" y1="51.23" x2="341.44" y2="109.44" stroke="#333" stroke-width="0.6"/>
<line x1="343.75" y1="48.38" x2="343.75" y2="86.57" stroke="#888" stroke-width="0.6"/>
<line x1="345.22" y1="60.03" x2="345.22" y2="95.62" stroke="#888" stroke-width="0.6"/>
<line x1="347.45" y1="53.95" x2="347.45" y2="88.95" stroke="#333" stroke-width="0.6"/>
<line x1="348.51" y1="51.84" x2="348.51" y2="117.87" stroke="#AAA" stroke-width="0.6"/>
<line x1="352.46" y1="56.78" x2="352.46" y2="95.58" stroke="#333" stroke-width="0.6"/>
<line x1="353.79" y1="48.58" x2="353.79" y2="86.55" stroke="#333" stroke-width="0.6"/>
<line x1="354.40" y1="32.76" x2="354.40" y2="52.32" stroke="#555" stroke-width="0.6"/>
<line x1="355.34" y1="34.40" x2="355.34" y2="58.38" stroke="#AAA" stroke-width="0.6"/>
<line x1="356.30" y1="33.48" x2="356.30" y2="58.56" stroke="#BBB" stroke-width="0.6"/>
<line x1="357.29" y1="32.33" x2="357.29" y2="44.36" stroke="#BBB" stroke-width="0.6"/>
<line x1="358.59" y1="32.69" x2="358.59" y2="54.23" stroke="#CCC" stroke-width="0.6"/>
<line x1="359.69" y1="33.14" x2="359.69" y2="53.44" stroke="#888" stroke-width="0.6"/>
<line x1="361.05" y1="32.50" x2="361.05" y2="53.63" stroke="#BBB" stroke-width="0.6"/>
<line x1="362.57" y1="32.76" x2="362.57" y2="48.62" stroke="#AAA" stroke-width="0.6"/>
<line x1="363.49" y1="32.83" x2="363.49" y2="42.37" stroke="#CCC" stroke-width="0.6"/>
<line x1="364.66" y1="33.46" x2="364.66" y2="39.02" stroke="#AAA" stroke-width="0.6"/>
<line x1="365.68" y1="34.38" x2="365.68" y2="46.14" stroke="#AAA" stroke-width="0.6"/>
<line x1="366.92" y1="32.71" x2="366.92" y2="59.73" stroke="#AAA" stroke-width="0.6"/>
<line x1="367.86" y1="32.05" x2="367.86" y2="49.96" stroke="#CCC" stroke-width="0.6"/>
<line x1="369.37" y1="33.10" x2="369.37" y2="39.81" stroke="#BBB" stroke-width="0.6"/>
<line x1="370.85" y1="32.89" x2="370.85" y2="54.86" stroke="#CCC" stroke-width="0.6"/>
<line x1="371.91" y1="34.40" x2="371.91" y2="54.65" stroke="#888" stroke-width="0.6"/>
<line x1="373.10" y1="33.67" x2="373.10" y2="41.89" stroke="#888" stroke-width="0.6"/>
<line x1="374.43" y1="34.12" x2="374.43" y2="56.30" stroke="#CCC" stroke-width="0.6"/>
<line x1="375.40" y1="34.14" x2="375.40" y2="58.39" stroke="#BBB" stroke-width="0.6"/>
<line x1="376.49" y1="33.58" x2="376.49" y2="52.22" stroke="#888" stroke-width="0.6"/>
<line x1="377.68" y1="32.26" x2="377.68" y2="46.92" stroke="#CCC" stroke-width="0.6"/>
<line x1="378.99" y1="33.24" x2="378.99" y2="59.20" stroke="#CCC" stroke-width="0.6"/>
<line x1="380.70" y1="80.12" x2="380.70" y2="106.53" stroke="#333" stroke-width="0.6"/>
<line x1="381.87" y1="67.33" x2="381.87" y2="106.77" stroke="#888" stroke-width="0.6"/>
<line x1="383.01" y1="69.70" x2="383.01" y2="104.41" stroke="#333" stroke-width="0.6"/>
<path d="M61.65 30.5V88.75M62.17 30.5V94.72M62.58 30.5V75.83M63.17 30.5V88.28M63.58 30.5V87.24M65.70 30.5V108.81M66.21 30.5V108.19M66.70 30.5V117.67M67.24 30.5V96.51M80.25 30.5V72.12M80.81 30.5V86.35M81.35 30.5V76.49M81.80 30.5V73.49M82.25 30.5V71.70M82.78 30.5V75.23M83.65 30.5V117.89M84.16 30.5V100.77M84.57 30.5V90.55M85.09 30.5V91.63M85.60 30.5V117.80M86.02 30.5V94.89M88.05 30.5V66.99M90.05 30.5V64.41M90.56 30.5V74.57M91.12 30.5V75.22M91.56 30.5V70.23M93.71 30.5V82.84M95.65 30.5V117.51M96.07 30.5V134.82M96.56 30.5V127.32M96.99 30.5V136.55M97.51 30.5V117.04M98.03 30.5V121.86M98.54 30.5V104.67M99.05 30.5V137.03M99.50 30.5V116.00M100.01 30.5V137.34M100.55 30.5V139.85M101.05 30.5V92.74M101.61 30.5V107.56M102.04 30.5V93.07M102.46 30.5V90.59M102.97 30.5V103.65M103.54 30.5V90.44M104.04 30.5V106.11M107.45 30.5V71.60M107.86 30.5V67.94M108.44 30.5V66.42M108.98 30.5V66.21M109.57 30.5V67.57M110.05 30.5V72.31M110.62 30.5V66.54M111.10 30.5V70.00M118.45 30.5V122.55M118.94 30.5V100.10M119.46 30.5V126.17M119.91 30.5V101.87M120.50 30.5V107.09M121.09 30.5V132.16M121.52 30.5V130.84M122.25 30.5V65.81M122.85 30.5V75.06M123.38 30.5V75.65M123.97 30.5V71.21M124.54 30.5V78.65M125.02 30.5V71.95M125.54 30.5V81.88M126.12 30.5V77.98M128.20 30.5V88.13M128.66 30.5V91.18M129.11 30.5V99.32M131.25 30.5V84.64M131.80 30.5V83.35M132.33 30.5V69.57M132.91 30.5V69.84M133.41 30.5V83.42M133.98 30.5V78.52M134.51 30.5V80.66M135.04 30.5V85.86M135.57 30.5V79.35M136.06 30.5V67.18M136.61 30.5V65.34M137.06 30.5V65.49M137.51 30.5V75.82M138.01 30.5V76.42M138.53 30.5V75.69M139.06 30.5V76.59M140.45 30.5V58.60M141.05 30.5V58.98M141.45 30.5V57.92M142.05 30.5V57.81M142.46 30.5V53.59M142.91 30.5V56.76M143.44 30.5V55.82M145.44 30.5V66.01M145.84 30.5V71.19M146.27 30.5V73.92M146.85 30.5V64.05M147.26 30.5V73.90M147.95 30.5V45.89M148.53 30.5V47.83M149.11 30.5V48.66M149.65 30.5V42.92M150.14 30.5V43.10M150.57 30.5V45.87M151.05 30.5V44.34M151.48 30.5V43.84M151.99 30.5V45.75M152.42 30.5V44.04M152.89 30.5V45.19M155.45 30.5V49.49M155.92 30.5V53.30M156.50 30.5V49.58M156.96 30.5V54.87M157.45 30.5V54.24M158.25 30.5V42.03M158.76 30.5V45.70M159.20 30.5V42.76M159.77 30.5V47.87M160.18 30.5V48.57M160.64 30.5V42.54M161.10 30.5V50.12M161.56 30.5V45.63M162.14 30.5V45.77M162.60 30.5V41.55M163.09 30.5V43.74M163.53 30.5V41.67M164.09 30.5V48.22M164.68 30.5V44.25M165.13 30.5V48.42M165.71 30.5V45.86M166.23 30.5V49.92M166.77 30.5V43.06M167.23 30.5V42.40M167.82 30.5V48.29M168.42 30.5V45.46M169.25 30.5V38.63M169.72 30.5V43.03M170.13 30.5V40.83M170.57 30.5V40.14M171.25 30.5V42.96M171.66 30.5V38.24M172.21 30.5V43.51M172.75 30.5V39.84M173.20 30.5V40.84M173.67 30.5V39.43M174.26 30.5V39.00M174.82 30.5V42.72M175.29 30.5V40.13M175.73 30.5V42.59M176.24 30.5V38.86M176.65 30.5V41.78M177.08 30.5V40.75M177.75 30.5V42.73M178.21 30.5V39.61M178.66 30.5V39.40M179.25 30.5V46.69M179.81 30.5V44.15M180.31 30.5V45.39M180.71 30.5V41.45M181.19 30.5V45.75M181.74 30.5V46.34M182.22 30.5V40.31M182.78 30.5V42.32M183.20 30.5V39.49M183.68 30.5V45.22M184.19 30.5V44.15M184.78 30.5V44.26M185.33 30.5V45.88M186.25 30.5V60.62M186.73 30.5V62.76M187.15 30.5V49.73M187.71 30.5V50.34M188.25 30.5V45.72M188.71 30.5V47.21M189.20 30.5V50.02M189.63 30.5V51.39M190.04 30.5V51.22M190.56 30.5V50.21M191.09 30.5V43.99M191.50 30.5V51.34M192.04 30.5V50.93M192.51 30.5V45.91M193.06 30.5V48.48M193.55 30.5V46.39M194.04 30.5V48.17M194.60 30.5V46.01M195.09 30.5V47.10M195.55 30.5V49.18M196.11 30.5V42.31M196.71 30.5V46.92M197.14 30.5V49.85M197.61 30.5V49.54M198.10 30.5V44.57M198.62 30.5V48.15M199.05 30.5V51.32M199.49 30.5V49.82M199.98 30.5V47.21M200.43 30.5V47.35M200.90 30.5V45.77M201.37 30.5V42.86M201.87 30.5V45.12M202.46 30.5V50.92M202.90 30.5V44.93M203.37 30.5V42.52M203.78 30.5V42.59M204.29 30.5V47.34M204.71 30.5V45.68M205.12 30.5V49.98M205.53 30.5V43.48M206.25 30.5V50.34M206.77 30.5V46.95M207.20 30.5V41.35M207.61 30.5V48.59M208.05 30.5V47.01M208.61 30.5V42.97M209.16 30.5V45.79M209.65 30.5V49.83M210.07 30.5V43.51M210.52 30.5V46.50M211.02 30.5V43.82M211.47 30.5V49.53M211.91 30.5V42.83M212.39 30.5V46.94M212.97 30.5V50.48M213.46 30.5V46.28M213.93 30.5V43.32M214.51 30.5V42.69M214.94 30.5V41.62M215.48 30.5V41.96M216.25 30.5V44.20M216.82 30.5V44.86M217.26 30.5V39.32M217.79 30.5V40.53M218.26 30.5V40.35M218.67 30.5V43.79M219.19 30.5V41.83M219.69 30.5V39.23M220.21 30.5V43.48M220.66 30.5V41.56M221.21 30.5V38.92M221.73 30.5V45.15M222.16 30.5V44.18M222.60 30.5V45.03M223.25 30.5V47.61M223.73 30.5V50.87M224.19 30.5V46.29M224.79 30.5V48.29M225.30 30.5V48.87M225.82 30.5V47.22M226.33 30.5V45.25M226.78 30.5V44.34M227.24 30.5V49.52M227.78 30.5V51.70M228.25 30.5V44.39M228.84 30.5V51.90M229.44 30.5V49.92M230.25 30.5V50.53M230.65 30.5V52.93M231.25 30.5V46.74M231.70 30.5V52.92M232.23 30.5V52.84M232.80 30.5V50.57M233.24 30.5V44.83M233.78 30.5V53.38M234.26 30.5V48.50M234.80 30.5V53.78M235.30 30.5V54.27M236.25 30.5V46.49M236.79 30.5V50.14M237.30 30.5V48.95M237.83 30.5V48.74M238.43 30.5V48.31M238.85 30.5V54.86M239.36 30.5V45.43M239.95 30.5V49.56M240.48 30.5V49.64M241.07 30.5V48.28M241.64 30.5V49.63M242.13 30.5V53.32M242.67 30.5V49.78M243.14 30.5V51.81M243.61 30.5V55.02M244.18 30.5V54.75M244.74 30.5V51.56M245.19 30.5V45.34M245.62 30.5V54.73M246.20 30.5V51.27M246.78 30.5V53.37M247.25 30.5V46.29M247.83 30.5V46.51M248.34 30.5V45.85M248.79 30.5V42.88M249.25 30.5V40.76M249.71 30.5V41.76M250.24 30.5V39.80M250.65 30.5V38.87M251.21 30.5V39.20M251.64 30.5V40.02M252.06 30.5V43.10M252.53 30.5V40.29M253.01 30.5V42.03M253.57 30.5V40.83M254.25 30.5V46.94M254.66 30.5V43.26M255.19 30.5V47.51M255.71 30.5V46.10M256.25 30.5V42.50M256.80 30.5V41.53M257.33 30.5V43.86M257.85 30.5V42.89M258.36 30.5V45.68M258.86 30.5V47.83M259.40 30.5V44.17M259.89 30.5V41.54M260.32 30.5V40.79M260.89 30.5V42.55M261.34 30.5V47.03M261.75 30.5V46.12M262.34 30.5V42.86M262.74 30.5V40.78M263.16 30.5V43.36M263.73 30.5V44.88M264.16 30.5V49.06M264.65 30.5V44.01M265.20 30.5V45.58M265.75 30.5V40.78M266.20 30.5V44.02M266.65 30.5V44.58M267.10 30.5V42.02M267.66 30.5V43.16M268.23 30.5V47.67M268.70 30.5V41.39M269.14 30.5V47.18M269.66 30.5V46.55M270.11 30.5V47.18M270.53 30.5V47.67M271.04 30.5V48.45M271.54 30.5V45.78M271.99 30.5V45.68M272.57 30.5V42.79M273.14 30.5V43.88M273.60 30.5V40.91M274.20 30.5V48.18M274.80 30.5V77.85M275.88 30.5V53.99M276.80 30.5V53.90M278.36 30.5V82.05M279.91 30.5V75.50M280.80 30.5V62.11M281.98 30.5V52.37M283.00 30.5V61.83M283.94 30.5V54.38M285.39 30.5V57.38M286.98 30.5V44.84M288.35 30.5V49.50M289.58 30.5V50.90M290.60 30.5V48.35M291.83 30.5V61.27M293.30 30.5V44.87M294.82 30.5V38.34M310.60 30.5V53.09M311.81 30.5V49.61M312.84 30.5V48.46M313.89 30.5V50.62M315.29 30.5V44.66M316.72 30.5V44.32M318.03 30.5V44.75M334.30 30.5V55.27M335.27 30.5V60.45M336.20 30.5V46.13M337.18 30.5V46.11M338.46 30.5V48.14M339.88 30.5V46.93M341.44 30.5V51.23M342.62 30.5V61.82M343.75 30.5V48.38M345.22 30.5V60.03M346.30 30.5V51.87M347.45 30.5V53.95M348.51 30.5V51.84M349.85 30.5V59.29M351.37 30.5V44.43M352.46 30.5V56.78M353.79 30.5V48.58M380.70 30.5V80.12M381.87 30.5V67.33M383.01 30.5V69.70" stroke="#000" stroke-width="1.1" fill="none"/>
<rect x="63.85" y="30.50" width="1.54" height="10.63" fill="#000"/>
<rect x="86.24" y="30.50" width="1.52" height="18.02" fill="#000"/>
<rect x="88.25" y="30.50" width="2.35" height="14.94" fill="#000"/>
<rect x="91.82" y="30.50" width="1.59" height="15.13" fill="#000"/>
<rect x="93.88" y="30.50" width="2.39" height="15.22" fill="#000"/>
<rect x="104.33" y="30.50" width="2.01" height="18.45" fill="#000"/>
<rect x="111.31" y="30.50" width="1.42" height="12.37" fill="#000"/>
<rect x="121.73" y="30.50" width="1.85" height="30.78" fill="#000"/>
<rect x="126.23" y="30.50" width="1.67" height="6.53" fill="#000"/>
<rect x="129.27" y="30.50" width="1.80" height="7.51" fill="#000"/>
<rect x="139.19" y="30.50" width="1.89" height="19.44" fill="#000"/>
<rect x="143.72" y="30.50" width="1.42" height="3.35" fill="#000"/>
<rect x="147.53" y="30.50" width="1.45" height="12.05" fill="#000"/>
<rect x="153.03" y="30.50" width="2.27" height="4.68" fill="#000"/>
<path d="M70.8 45V32.3H78.2V70" stroke="#000" stroke-width="0.8" fill="none"/>
<path d="M171.00 31.00 L171.63 33.53 L172.24 36.06 L172.80 38.59 L173.34 41.12 L173.84 43.65 L174.31 46.18 L174.75 48.71 L175.16 51.24 L175.53 53.77 L175.88 56.30 L176.18 58.83 L176.46 61.36 L176.70 63.89 L176.91 66.42 L177.09 68.95 L177.24 71.48 L177.35 74.01 L177.44 76.54 L177.48 79.07 L177.50 81.60" stroke="#000" stroke-width="1.5" fill="none"/>
<line x1="171.33" y1="33.53" x2="171.33" y2="42.33" stroke="#444" stroke-width="0.5"/>
<line x1="172.50" y1="38.59" x2="172.50" y2="44.59" stroke="#444" stroke-width="0.5"/>
<line x1="173.54" y1="43.65" x2="173.54" y2="49.20" stroke="#444" stroke-width="0.5"/>
<line x1="174.45" y1="48.71" x2="174.45" y2="52.18" stroke="#444" stroke-width="0.5"/>
<line x1="175.23" y1="53.77" x2="175.23" y2="58.20" stroke="#444" stroke-width="0.5"/>
<line x1="175.88" y1="58.83" x2="175.88" y2="61.99" stroke="#444" stroke-width="0.5"/>
<line x1="176.40" y1="63.89" x2="176.40" y2="70.49" stroke="#444" stroke-width="0.5"/>
<line x1="176.79" y1="68.95" x2="176.79" y2="75.60" stroke="#444" stroke-width="0.5"/>
<line x1="177.05" y1="74.01" x2="177.05" y2="76.71" stroke="#444" stroke-width="0.5"/>
<line x1="177.18" y1="79.07" x2="177.18" y2="88.43" stroke="#444" stroke-width="0.5"/>
<path d="M180.00 31.00 L180.59 33.00 L181.14 35.00 L181.66 37.00 L182.16 39.00 L182.62 41.00 L183.06 43.00 L183.47 45.00 L183.84 47.00 L184.19 49.00 L184.50 51.00 L184.78 53.00 L185.04 55.00 L185.26 57.00 L185.46 59.00 L185.62 61.00 L185.76 63.00 L185.87 65.00 L185.94 67.00 L185.99 69.00 L186.00 71.00" stroke="#000" stroke-width="1.5" fill="none"/>
<line x1="180.28" y1="33.00" x2="180.28" y2="37.59" stroke="#444" stroke-width="0.5"/>
<line x1="181.36" y1="37.00" x2="181.36" y2="45.75" stroke="#444" stroke-width="0.5"/>
<line x1="182.32" y1="41.00" x2="182.32" y2="49.71" stroke="#444" stroke-width="0.5"/>
<line x1="183.16" y1="45.00" x2="183.16" y2="54.67" stroke="#444" stroke-width="0.5"/>
<line x1="183.88" y1="49.00" x2="183.88" y2="52.63" stroke="#444" stroke-width="0.5"/>
<line x1="184.48" y1="53.00" x2="184.48" y2="58.41" stroke="#444" stroke-width="0.5"/>
<line x1="184.96" y1="57.00" x2="184.96" y2="66.28" stroke="#444" stroke-width="0.5"/>
<line x1="185.32" y1="61.00" x2="185.32" y2="63.09" stroke="#444" stroke-width="0.5"/>
<line x1="185.56" y1="65.00" x2="185.56" y2="67.38" stroke="#444" stroke-width="0.5"/>
<line x1="185.69" y1="69.00" x2="185.69" y2="75.52" stroke="#444" stroke-width="0.5"/>
<path d="M247.00 38.00 L247.24 38.85 L247.47 39.70 L247.69 40.55 L247.90 41.40 L248.09 42.25 L248.28 43.10 L248.44 43.95 L248.60 44.80 L248.74 45.65 L248.88 46.50 L248.99 47.35 L249.10 48.20 L249.19 49.05 L249.28 49.90 L249.34 50.75 L249.40 51.60 L249.44 52.45 L249.47 53.30 L249.49 54.15 L249.50 55.00" stroke="#000" stroke-width="1.5" fill="none"/>
<line x1="246.94" y1="38.85" x2="246.94" y2="44.83" stroke="#444" stroke-width="0.5"/>
<line x1="247.39" y1="40.55" x2="247.39" y2="49.91" stroke="#444" stroke-width="0.5"/>
<line x1="247.79" y1="42.25" x2="247.79" y2="50.44" stroke="#444" stroke-width="0.5"/>
<line x1="248.14" y1="43.95" x2="248.14" y2="50.26" stroke="#444" stroke-width="0.5"/>
<line x1="248.44" y1="45.65" x2="248.44" y2="55.64" stroke="#444" stroke-width="0.5"/>
<line x1="248.69" y1="47.35" x2="248.69" y2="53.49" stroke="#444" stroke-width="0.5"/>
<line x1="248.89" y1="49.05" x2="248.89" y2="55.19" stroke="#444" stroke-width="0.5"/>
<line x1="249.04" y1="50.75" x2="249.04" y2="58.23" stroke="#444" stroke-width="0.5"/>
<line x1="249.14" y1="52.45" x2="249.14" y2="57.57" stroke="#444" stroke-width="0.5"/>
<line x1="249.19" y1="54.15" x2="249.19" y2="59.01" stroke="#444" stroke-width="0.5"/>
<path d="M294.50 32.40 L295.85 37.02 L297.12 41.64 L298.33 46.26 L299.47 50.88 L300.54 55.50 L301.54 60.12 L302.47 64.74 L303.33 69.36 L304.13 73.98 L304.85 78.60 L305.51 83.22 L306.09 87.84 L306.61 92.46 L307.06 97.08 L307.44 101.70 L307.75 106.32 L307.99 110.94 L308.16 115.56 L308.27 120.18 L308.30 124.80" stroke="#000" stroke-width="1.5" fill="none"/>
<line x1="295.55" y1="37.02" x2="295.55" y2="43.78" stroke="#444" stroke-width="0.5"/>
<line x1="298.03" y1="46.26" x2="298.03" y2="51.07" stroke="#444" stroke-width="0.5"/>
<line x1="300.24" y1="55.50" x2="300.24" y2="65.08" stroke="#444" stroke-width="0.5"/>
<line x1="302.17" y1="64.74" x2="302.17" y2="72.15" stroke="#444" stroke-width="0.5"/>
<line x1="303.83" y1="73.98" x2="303.83" y2="80.18" stroke="#444" stroke-width="0.5"/>
<line x1="305.21" y1="83.22" x2="305.21" y2="86.01" stroke="#444" stroke-width="0.5"/>
<line x1="306.31" y1="92.46" x2="306.31" y2="97.46" stroke="#444" stroke-width="0.5"/>
<line x1="307.14" y1="101.70" x2="307.14" y2="106.91" stroke="#444" stroke-width="0.5"/>
<line x1="307.69" y1="110.94" x2="307.69" y2="117.43" stroke="#444" stroke-width="0.5"/>
<line x1="307.97" y1="120.18" x2="307.97" y2="126.77" stroke="#444" stroke-width="0.5"/>
<path d="M298.90 32.00 L299.49 34.43 L300.06 36.86 L300.59 39.29 L301.10 41.72 L301.57 44.15 L302.01 46.58 L302.42 49.01 L302.80 51.44 L303.15 53.87 L303.48 56.30 L303.76 58.73 L304.02 61.16 L304.25 63.59 L304.45 66.02 L304.62 68.45 L304.76 70.88 L304.86 73.31 L304.94 75.74 L304.98 78.17 L305.00 80.60" stroke="#000" stroke-width="1.5" fill="none"/>
<line x1="299.19" y1="34.43" x2="299.19" y2="43.47" stroke="#444" stroke-width="0.5"/>
<line x1="300.29" y1="39.29" x2="300.29" y2="49.01" stroke="#444" stroke-width="0.5"/>
<line x1="301.27" y1="44.15" x2="301.27" y2="50.04" stroke="#444" stroke-width="0.5"/>
<line x1="302.12" y1="49.01" x2="302.12" y2="54.53" stroke="#444" stroke-width="0.5"/>
<line x1="302.85" y1="53.87" x2="302.85" y2="60.87" stroke="#444" stroke-width="0.5"/>
<line x1="303.46" y1="58.73" x2="303.46" y2="68.70" stroke="#444" stroke-width="0.5"/>
<line x1="303.95" y1="63.59" x2="303.95" y2="68.34" stroke="#444" stroke-width="0.5"/>
<line x1="304.32" y1="68.45" x2="304.32" y2="74.69" stroke="#444" stroke-width="0.5"/>
<line x1="304.56" y1="73.31" x2="304.56" y2="81.84" stroke="#444" stroke-width="0.5"/>
<line x1="304.68" y1="78.17" x2="304.68" y2="81.54" stroke="#444" stroke-width="0.5"/>
<path d="M303.00 34.00 L303.83 36.90 L304.62 39.80 L305.36 42.70 L306.06 45.60 L306.72 48.50 L307.33 51.40 L307.91 54.30 L308.44 57.20 L308.93 60.10 L309.38 63.00 L309.78 65.90 L310.14 68.80 L310.46 71.70 L310.74 74.60 L310.97 77.50 L311.16 80.40 L311.31 83.30 L311.42 86.20 L311.48 89.10 L311.50 92.00" stroke="#000" stroke-width="1.5" fill="none"/>
<line x1="303.53" y1="36.90" x2="303.53" y2="41.44" stroke="#444" stroke-width="0.5"/>
<line x1="305.06" y1="42.70" x2="305.06" y2="52.53" stroke="#444" stroke-width="0.5"/>
<line x1="306.42" y1="48.50" x2="306.42" y2="57.11" stroke="#444" stroke-width="0.5"/>
<line x1="307.61" y1="54.30" x2="307.61" y2="60.40" stroke="#444" stroke-width="0.5"/>
<line x1="308.63" y1="60.10" x2="308.63" y2="62.98" stroke="#444" stroke-width="0.5"/>
<line x1="309.48" y1="65.90" x2="309.48" y2="75.06" stroke="#444" stroke-width="0.5"/>
<line x1="310.16" y1="71.70" x2="310.16" y2="79.22" stroke="#444" stroke-width="0.5"/>
<line x1="310.67" y1="77.50" x2="310.67" y2="86.06" stroke="#444" stroke-width="0.5"/>
<line x1="311.01" y1="83.30" x2="311.01" y2="93.22" stroke="#444" stroke-width="0.5"/>
<line x1="311.18" y1="89.10" x2="311.18" y2="98.21" stroke="#444" stroke-width="0.5"/>
<path d="M319.00 35.00 L319.86 38.15 L320.67 41.30 L321.44 44.45 L322.17 47.60 L322.85 50.75 L323.49 53.90 L324.08 57.05 L324.63 60.20 L325.14 63.35 L325.60 66.50 L326.02 69.65 L326.39 72.80 L326.72 75.95 L327.01 79.10 L327.25 82.25 L327.45 85.40 L327.60 88.55 L327.71 91.70 L327.78 94.85 L327.80 98.00" stroke="#000" stroke-width="1.5" fill="none"/>
<line x1="319.56" y1="38.15" x2="319.56" y2="43.52" stroke="#444" stroke-width="0.5"/>
<line x1="321.14" y1="44.45" x2="321.14" y2="47.70" stroke="#444" stroke-width="0.5"/>
<line x1="322.55" y1="50.75" x2="322.55" y2="55.07" stroke="#444" stroke-width="0.5"/>
<line x1="323.78" y1="57.05" x2="323.78" y2="63.14" stroke="#444" stroke-width="0.5"/>
<line x1="324.84" y1="63.35" x2="324.84" y2="69.39" stroke="#444" stroke-width="0.5"/>
<line x1="325.72" y1="69.65" x2="325.72" y2="73.15" stroke="#444" stroke-width="0.5"/>
<line x1="326.42" y1="75.95" x2="326.42" y2="79.41" stroke="#444" stroke-width="0.5"/>
<line x1="326.95" y1="82.25" x2="326.95" y2="89.29" stroke="#444" stroke-width="0.5"/>
<line x1="327.30" y1="88.55" x2="327.30" y2="95.38" stroke="#444" stroke-width="0.5"/>
<line x1="327.48" y1="94.85" x2="327.48" y2="99.68" stroke="#444" stroke-width="0.5"/>
<path d="M354.00 32.40 L355.10 37.52 L356.15 42.63 L357.14 47.74 L358.07 52.86 L358.94 57.97 L359.76 63.09 L360.53 68.20 L361.23 73.32 L361.88 78.44 L362.48 83.55 L363.01 88.66 L363.49 93.78 L363.92 98.89 L364.28 104.01 L364.59 109.12 L364.85 114.24 L365.05 119.35 L365.19 124.47 L365.27 129.58 L365.30 134.70" stroke="#000" stroke-width="1.5" fill="none"/>
<line x1="354.80" y1="37.52" x2="354.80" y2="47.46" stroke="#444" stroke-width="0.5"/>
<line x1="356.84" y1="47.74" x2="356.84" y2="54.84" stroke="#444" stroke-width="0.5"/>
<line x1="358.64" y1="57.97" x2="358.64" y2="60.31" stroke="#444" stroke-width="0.5"/>
<line x1="360.23" y1="68.20" x2="360.23" y2="73.50" stroke="#444" stroke-width="0.5"/>
<line x1="361.58" y1="78.44" x2="361.58" y2="86.74" stroke="#444" stroke-width="0.5"/>
<line x1="362.71" y1="88.66" x2="362.71" y2="93.12" stroke="#444" stroke-width="0.5"/>
<line x1="363.62" y1="98.89" x2="363.62" y2="106.42" stroke="#444" stroke-width="0.5"/>
<line x1="364.29" y1="109.12" x2="364.29" y2="111.16" stroke="#444" stroke-width="0.5"/>
<line x1="364.75" y1="119.35" x2="364.75" y2="123.79" stroke="#444" stroke-width="0.5"/>
<line x1="364.97" y1="129.58" x2="364.97" y2="138.32" stroke="#444" stroke-width="0.5"/>
<path d="M365.50 33.30 L365.98 38.25 L366.43 43.20 L366.86 48.15 L367.26 53.10 L367.64 58.05 L368.00 63.00 L368.33 67.95 L368.64 72.90 L368.92 77.85 L369.17 82.80 L369.41 87.75 L369.62 92.70 L369.80 97.65 L369.96 102.60 L370.09 107.55 L370.20 112.50 L370.29 117.45 L370.35 122.40 L370.39 127.35 L370.40 132.30" stroke="#000" stroke-width="1.5" fill="none"/>
<line x1="365.68" y1="38.25" x2="365.68" y2="44.94" stroke="#444" stroke-width="0.5"/>
<line x1="366.56" y1="48.15" x2="366.56" y2="55.49" stroke="#444" stroke-width="0.5"/>
<line x1="367.34" y1="58.05" x2="367.34" y2="61.62" stroke="#444" stroke-width="0.5"/>
<line x1="368.03" y1="67.95" x2="368.03" y2="73.93" stroke="#444" stroke-width="0.5"/>
<line x1="368.62" y1="77.85" x2="368.62" y2="84.28" stroke="#444" stroke-width="0.5"/>
<line x1="369.11" y1="87.75" x2="369.11" y2="91.88" stroke="#444" stroke-width="0.5"/>
<line x1="369.50" y1="97.65" x2="369.50" y2="104.82" stroke="#444" stroke-width="0.5"/>
<line x1="369.79" y1="107.55" x2="369.79" y2="113.80" stroke="#444" stroke-width="0.5"/>
<line x1="369.99" y1="117.45" x2="369.99" y2="127.43" stroke="#444" stroke-width="0.5"/>
<line x1="370.09" y1="127.35" x2="370.09" y2="133.95" stroke="#444" stroke-width="0.5"/>
<path d="M369.90 34.10 L370.76 40.12 L371.57 46.15 L372.34 52.17 L373.07 58.20 L373.75 64.22 L374.39 70.25 L374.98 76.28 L375.53 82.30 L376.04 88.33 L376.50 94.35 L376.92 100.38 L377.29 106.40 L377.62 112.43 L377.91 118.45 L378.15 124.47 L378.35 130.50 L378.50 136.53 L378.61 142.55 L378.68 148.57 L378.70 154.60" stroke="#000" stroke-width="1.5" fill="none"/>
<line x1="370.46" y1="40.12" x2="370.46" y2="45.41" stroke="#444" stroke-width="0.5"/>
<line x1="372.04" y1="52.17" x2="372.04" y2="55.15" stroke="#444" stroke-width="0.5"/>
<line x1="373.45" y1="64.22" x2="373.45" y2="67.48" stroke="#444" stroke-width="0.5"/>
<line x1="374.68" y1="76.28" x2="374.68" y2="84.35" stroke="#444" stroke-width="0.5"/>
<line x1="375.74" y1="88.33" x2="375.74" y2="91.18" stroke="#444" stroke-width="0.5"/>
<line x1="376.62" y1="100.38" x2="376.62" y2="103.18" stroke="#444" stroke-width="0.5"/>
<line x1="377.32" y1="112.43" x2="377.32" y2="115.79" stroke="#444" stroke-width="0.5"/>
<line x1="377.85" y1="124.47" x2="377.85" y2="130.65" stroke="#444" stroke-width="0.5"/>
<line x1="378.20" y1="136.53" x2="378.20" y2="145.11" stroke="#444" stroke-width="0.5"/>
<line x1="378.38" y1="148.57" x2="378.38" y2="155.48" stroke="#444" stroke-width="0.5"/>
<path d="M319 37.6H327.8V60.4H333V118" stroke="#000" stroke-width="0.8" fill="none"/>
<path d="M354 32.4H365.5M369.9 34.1H380.4" stroke="#000" stroke-width="0.8" fill="none"/>
<path d="M270.2 40 Q271 33 274.4 33.3 L274.4 45.5 Q271 46 270.2 44 Z" fill="#000"/>
<path d="M169.5 30.9L178.5 30.9L178.5 36.5Q174.0 32.0 169.5 30.9Z" fill="#fff"/>
<path d="M186 30.9L189 30.9L189 34.5Q187.5 32.0 186 30.9Z" fill="#fff"/>
<path d="M221.5 30.9L224.5 30.9L224.5 34.5Q223.0 32.0 221.5 30.9Z" fill="#fff"/>
<path d="M247 30.9L251 30.9L251 35.5Q249.0 32.0 247 30.9Z" fill="#fff"/>
<line x1="61.20" y1="30.50" x2="383.60" y2="30.50" stroke="#000" stroke-width="0.9"/>
<rect x="60.90" y="212.20" width="1.35" height="41.20" fill="#7080C0"/>
<rect x="62.20" y="212.20" width="1.75" height="41.20" fill="#90B0A0"/>
<rect x="63.90" y="212.20" width="3.15" height="41.20" fill="#60D090"/>
<rect x="67.00" y="212.20" width="11.85" height="41.20" fill="#00FF00"/>
<rect x="78.80" y="212.20" width="2.25" height="41.20" fill="#90C8A0"/>
<rect x="81.00" y="212.20" width="1.85" height="41.20" fill="#A8B8B0"/>
<rect x="82.80" y="212.20" width="2.25" height="41.20" fill="#98C0A0"/>
<rect x="85.00" y="212.20" width="1.35" height="41.20" fill="#7080C8"/>
<rect x="86.30" y="212.20" width="2.25" height="41.20" fill="#3050D0"/>
<rect x="88.50" y="212.20" width="1.75" height="41.20" fill="#60A0C8"/>
<rect x="90.20" y="212.20" width="2.65" height="41.20" fill="#70D0A0"/>
<rect x="92.80" y="212.20" width="2.25" height="41.20" fill="#90C0B8"/>
<rect x="95.00" y="212.20" width="1.85" height="41.20" fill="#80A0C0"/>
<rect x="96.80" y="212.20" width="2.65" height="41.20" fill="#70D0B0"/>
<rect x="99.40" y="212.20" width="1.85" height="41.20" fill="#60C8A0"/>
<rect x="101.20" y="212.20" width="2.65" height="41.20" fill="#50B0D0"/>
<rect x="103.80" y="212.20" width="1.75" height="41.20" fill="#60D0C0"/>
<rect x="105.50" y="212.20" width="5.35" height="41.20" fill="#90B8B8"/>
<rect x="110.80" y="212.20" width="1.75" height="41.20" fill="#5090C0"/>
<rect x="112.50" y="212.20" width="1.85" height="41.20" fill="#60C0A0"/>
<rect x="114.30" y="212.20" width="3.15" height="41.20" fill="#20F040"/>
<rect x="117.40" y="212.20" width="2.65" height="41.20" fill="#70A0C0"/>
<rect x="120.00" y="212.20" width="2.65" height="41.20" fill="#A0C0B8"/>
<rect x="122.60" y="212.20" width="2.75" height="41.20" fill="#50C0C0"/>
<rect x="125.30" y="212.20" width="2.65" height="41.20" fill="#5090C0"/>
<rect x="127.90" y="212.20" width="1.75" height="41.20" fill="#7088C8"/>
<rect x="129.60" y="212.20" width="3.55" height="41.20" fill="#70C0D0"/>
<rect x="133.10" y="212.20" width="2.75" height="41.20" fill="#60D890"/>
<rect x="135.80" y="212.20" width="3.55" height="41.20" fill="#80C0D8"/>
<rect x="139.30" y="212.20" width="3.55" height="41.20" fill="#60A8D0"/>
<rect x="142.80" y="212.20" width="2.65" height="41.20" fill="#6090D8"/>
<rect x="145.40" y="212.20" width="2.65" height="41.20" fill="#80B0E8"/>
<rect x="148.00" y="212.20" width="2.65" height="41.20" fill="#7060B8"/>
<rect x="150.60" y="212.20" width="2.25" height="41.20" fill="#A0D890"/>
<rect x="152.80" y="212.20" width="2.25" height="41.20" fill="#70A0C0"/>
<rect x="155.00" y="212.20" width="1.85" height="41.20" fill="#90A890"/>
<rect x="156.80" y="212.20" width="4.45" height="41.20" fill="#5088D8"/>
<rect x="161.20" y="212.20" width="2.65" height="41.20" fill="#5090C8"/>
<rect x="163.80" y="212.20" width="1.75" height="41.20" fill="#60B0D0"/>
<rect x="165.50" y="212.20" width="2.25" height="41.20" fill="#70D0B0"/>
<rect x="167.70" y="212.20" width="3.15" height="41.20" fill="#2030E0"/>
<rect x="170.80" y="212.20" width="1.75" height="41.20" fill="#5090E0"/>
<rect x="172.50" y="212.20" width="3.55" height="41.20" fill="#2060E0"/>
<rect x="176.00" y="212.20" width="1.85" height="41.20" fill="#70B0E0"/>
<rect x="177.80" y="212.20" width="2.25" height="41.20" fill="#90B0B0"/>
<rect x="180.00" y="212.20" width="1.85" height="41.20" fill="#8080B0"/>
<rect x="181.80" y="212.20" width="2.25" height="41.20" fill="#A0A8B0"/>
<rect x="184.00" y="212.20" width="3.45" height="41.20" fill="#60C0A0"/>
<rect x="187.40" y="212.20" width="1.85" height="41.20" fill="#C0C080"/>
<rect x="189.20" y="212.20" width="2.25" height="41.20" fill="#60B0B0"/>
<rect x="191.40" y="212.20" width="1.75" height="41.20" fill="#8080A8"/>
<rect x="193.10" y="212.20" width="2.25" height="41.20" fill="#5070D8"/>
<rect x="195.30" y="212.20" width="3.15" height="41.20" fill="#8088C8"/>
<rect x="198.40" y="212.20" width="2.25" height="41.20" fill="#70B0B8"/>
<rect x="200.60" y="212.20" width="1.75" height="41.20" fill="#A09050"/>
<rect x="202.30" y="212.20" width="2.25" height="41.20" fill="#50C8C0"/>
<rect x="204.50" y="212.20" width="1.85" height="41.20" fill="#8080B0"/>
<rect x="206.30" y="212.20" width="5.25" height="41.20" fill="#80C0B8"/>
<rect x="211.50" y="212.20" width="2.25" height="41.20" fill="#A0E080"/>
<rect x="213.70" y="212.20" width="3.95" height="41.20" fill="#90C0B8"/>
<rect x="217.60" y="212.20" width="3.65" height="41.20" fill="#60A0C0"/>
<rect x="221.20" y="212.20" width="7.85" height="41.20" fill="#40D8C8"/>
<rect x="229.00" y="212.20" width="2.75" height="41.20" fill="#905878"/>
<rect x="231.70" y="212.20" width="2.65" height="41.20" fill="#90B0A0"/>
<rect x="234.30" y="212.20" width="2.65" height="41.20" fill="#A0A0B8"/>
<rect x="236.90" y="212.20" width="3.15" height="41.20" fill="#8080C0"/>
<rect x="240.00" y="212.20" width="1.85" height="41.20" fill="#7070C0"/>
<rect x="241.80" y="212.20" width="2.25" height="41.20" fill="#A08090"/>
<rect x="244.00" y="212.20" width="4.35" height="41.20" fill="#B03038"/>
<rect x="248.30" y="212.20" width="1.35" height="41.20" fill="#80A0A0"/>
<rect x="249.60" y="212.20" width="2.25" height="41.20" fill="#40B8D0"/>
<rect x="251.80" y="212.20" width="2.25" height="41.20" fill="#70B8C0"/>
<rect x="254.00" y="212.20" width="2.25" height="41.20" fill="#5090B8"/>
<rect x="256.20" y="212.20" width="2.25" height="41.20" fill="#B0C0A0"/>
<rect x="258.40" y="212.20" width="2.65" height="41.20" fill="#A0A8B0"/>
<rect x="261.00" y="212.20" width="3.15" height="41.20" fill="#A0A0B8"/>
<rect x="264.10" y="212.20" width="1.75" height="41.20" fill="#3080D0"/>
<rect x="265.80" y="212.20" width="2.25" height="41.20" fill="#9090C8"/>
<rect x="268.00" y="212.20" width="2.65" height="41.20" fill="#90C0B8"/>
<rect x="270.60" y="212.20" width="2.75" height="41.20" fill="#80C8C0"/>
<rect x="273.30" y="212.20" width="2.65" height="41.20" fill="#60C0D0"/>
<rect x="275.90" y="212.20" width="2.65" height="41.20" fill="#80C0B8"/>
<rect x="278.50" y="212.20" width="1.85" height="41.20" fill="#3060D0"/>
<rect x="280.30" y="212.20" width="2.25" height="41.20" fill="#60A0D8"/>
<rect x="282.50" y="212.20" width="3.95" height="41.20" fill="#40D8C8"/>
<rect x="286.40" y="212.20" width="2.65" height="41.20" fill="#40C0D0"/>
<rect x="289.00" y="212.20" width="3.25" height="41.20" fill="#3070E0"/>
<rect x="292.20" y="212.20" width="2.95" height="41.20" fill="#40C8E0"/>
<rect x="295.10" y="212.20" width="16.85" height="41.20" fill="#0000FF"/>
<rect x="311.90" y="212.20" width="22.65" height="41.20" fill="#40E0D0"/>
<rect x="334.50" y="212.20" width="2.95" height="41.20" fill="#80A0D8"/>
<rect x="337.40" y="212.20" width="2.25" height="41.20" fill="#7080A8"/>
<rect x="339.60" y="212.20" width="2.25" height="41.20" fill="#A8C0A0"/>
<rect x="341.80" y="212.20" width="2.95" height="41.20" fill="#9090C0"/>
<rect x="344.70" y="212.20" width="3.05" height="41.20" fill="#7080A0"/>
<rect x="347.70" y="212.20" width="2.25" height="41.20" fill="#C0A070"/>
<rect x="349.90" y="212.20" width="2.15" height="41.20" fill="#D09040"/>
<rect x="352.00" y="212.20" width="13.25" height="41.20" fill="#FFFF00"/>
<rect x="365.20" y="212.20" width="14.65" height="41.20" fill="#A52A2A"/>
<rect x="379.80" y="212.20" width="3.85" height="41.20" fill="#B8C8B8"/>
<rect x="61.0" y="212.2" width="322.6" height="41.2" fill="none" stroke="#555" stroke-width="0.7"/>
<text x="59.30" y="235.40" font-size="7.35" text-anchor="end" class="F" fill="#000">Dynamic Tree Cut</text>
<text x="436.50" y="22.00" font-size="11" text-anchor="start" class="F" fill="#000">B</text>
<text x="594.00" y="26.50" font-size="8.6" text-anchor="middle" class="F" font-weight="bold" fill="#000">Module−trait relationships</text>
<rect x="491.60" y="37.00" width="12.90" height="26.92" fill="#0000FF"/>
<rect x="506.40" y="37.00" width="151.70" height="26.92" fill="#A9D5FB"/>
<text x="488.00" y="53.46" font-size="8.6" text-anchor="end" class="F" fill="#000">MEblue</text>
<text x="586.60" y="47.96" font-size="6.3" text-anchor="middle" class="F" fill="#000">−0.33</text>
<text x="586.60" y="54.66" font-size="6.3" text-anchor="middle" class="F" fill="#000">(2e−10)</text>
<rect x="491.60" y="63.72" width="12.90" height="26.92" fill="#40E0D0"/>
<rect x="506.40" y="63.72" width="151.70" height="26.92" fill="#FDDAD3"/>
<text x="488.00" y="80.18" font-size="8.6" text-anchor="end" class="F" fill="#000">MEturquoise</text>
<text x="586.60" y="74.68" font-size="6.3" text-anchor="middle" class="F" fill="#000">0.2</text>
<text x="586.60" y="81.38" font-size="6.3" text-anchor="middle" class="F" fill="#000">(1e−04)</text>
<rect x="491.60" y="90.44" width="12.90" height="26.92" fill="#00FF00"/>
<rect x="506.40" y="90.44" width="151.70" height="26.92" fill="#FFFFFF"/>
<text x="488.00" y="106.90" font-size="8.6" text-anchor="end" class="F" fill="#000">MEgreen</text>
<text x="586.60" y="101.40" font-size="6.3" text-anchor="middle" class="F" fill="#000">0.0044</text>
<text x="586.60" y="108.10" font-size="6.3" text-anchor="middle" class="F" fill="#000">(0.9)</text>
<rect x="491.60" y="117.16" width="12.90" height="26.92" fill="#A52A2A"/>
<rect x="506.40" y="117.16" width="151.70" height="26.92" fill="#D6EAFD"/>
<text x="488.00" y="133.62" font-size="8.6" text-anchor="end" class="F" fill="#000">MEbrown</text>
<text x="586.60" y="128.12" font-size="6.3" text-anchor="middle" class="F" fill="#000">−0.17</text>
<text x="586.60" y="134.82" font-size="6.3" text-anchor="middle" class="F" fill="#000">(0.001)</text>
<rect x="491.60" y="143.88" width="12.90" height="26.92" fill="#FFFF00"/>
<rect x="506.40" y="143.88" width="151.70" height="26.92" fill="#C1E0FC"/>
<text x="488.00" y="160.34" font-size="8.6" text-anchor="end" class="F" fill="#000">MEyellow</text>
<text x="586.60" y="154.84" font-size="6.3" text-anchor="middle" class="F" fill="#000">−0.27</text>
<text x="586.60" y="161.54" font-size="6.3" text-anchor="middle" class="F" fill="#000">(2e−07)</text>
<rect x="491.60" y="170.60" width="12.90" height="26.92" fill="#BEBEBE"/>
<rect x="506.40" y="170.60" width="151.70" height="26.92" fill="#FEEBE6"/>
<text x="488.00" y="187.06" font-size="8.6" text-anchor="end" class="F" fill="#000">MEgrey</text>
<text x="586.60" y="181.56" font-size="6.3" text-anchor="middle" class="F" fill="#000">0.086</text>
<text x="586.60" y="188.26" font-size="6.3" text-anchor="middle" class="F" fill="#000">(0.1)</text>
<path d="M506.4 37.2H658.1V197.32H506.4" fill="none" stroke="#5A6470" stroke-width="0.9"/>
<path d="M506.6 37.2V197.32" fill="none" stroke="#D8D8D8" stroke-width="0.6"/>
<text x="582.70" y="209.40" font-size="8.65" text-anchor="middle" class="F" fill="#000">Disulfidptosis</text>
<defs><linearGradient id="cb" x1="0" y1="0" x2="0" y2="1"><stop offset="0" stop-color="#F53A14"/><stop offset="0.5" stop-color="#FFFFFF"/><stop offset="1" stop-color="#1A74F2"/></linearGradient></defs>
<rect x="662.2" y="41.3" width="5.6" height="152.1" fill="url(#cb)" stroke="#555" stroke-width="0.6"/>
<line x1="667.80" y1="41.30" x2="671.50" y2="41.30" stroke="#444" stroke-width="0.7"/>
<text x="679.50" y="41.30" font-size="7.0" text-anchor="middle" class="F" fill="#000" transform="rotate(-90 679.5 41.3)">1</text>
<line x1="667.80" y1="79.32" x2="671.50" y2="79.32" stroke="#444" stroke-width="0.7"/>
<text x="679.50" y="79.32" font-size="7.0" text-anchor="middle" class="F" fill="#000" transform="rotate(-90 679.5 79.32499999999999)">0.5</text>
<line x1="667.80" y1="117.35" x2="671.50" y2="117.35" stroke="#444" stroke-width="0.7"/>
<text x="679.50" y="117.35" font-size="7.0" text-anchor="middle" class="F" fill="#000" transform="rotate(-90 679.5 117.35)">0</text>
<line x1="667.80" y1="155.38" x2="671.50" y2="155.38" stroke="#444" stroke-width="0.7"/>
<text x="679.50" y="155.38" font-size="7.0" text-anchor="middle" class="F" fill="#000" transform="rotate(-90 679.5 155.375)">−0.5</text>
<line x1="667.80" y1="193.40" x2="671.50" y2="193.40" stroke="#444" stroke-width="0.7"/>
<text x="679.50" y="193.40" font-size="7.0" text-anchor="middle" class="F" fill="#000" transform="rotate(-90 679.5 193.39999999999998)">−1</text>
<text x="10.00" y="293.20" font-size="11" text-anchor="start" class="F" fill="#000">C</text>
<g stroke="#000" stroke-width="0.8">
<circle cx="113.7" cy="360.8" r="71.7" fill="#FF0000" fill-opacity="0.5"/>
<circle cx="183.9" cy="360.8" r="71.5" fill="#00FF00" fill-opacity="0.5"/>
<circle cx="148.8" cy="421.8" r="71.5" fill="#0000FF" fill-opacity="0.5"/>
</g>
<g fill="none" stroke="#000" stroke-width="0.8">
<circle cx="113.7" cy="360.8" r="71.7"/><circle cx="183.9" cy="360.8" r="71.5"/><circle cx="148.8" cy="421.8" r="71.5"/>
</g>
<text x="82.00" y="345.30" font-size="7.8" text-anchor="middle" class="S" fill="#000">3250</text>
<text x="149.00" y="327.10" font-size="7.8" text-anchor="middle" class="S" fill="#000">189</text>
<text x="215.40" y="345.30" font-size="7.8" text-anchor="middle" class="S" fill="#000">1009</text>
<text x="149.00" y="384.30" font-size="7.8" text-anchor="middle" class="S" fill="#000">135</text>
<text x="99.80" y="413.00" font-size="7.8" text-anchor="middle" class="S" fill="#000">1351</text>
<text x="197.60" y="413.00" font-size="7.8" text-anchor="middle" class="S" fill="#000">460</text>
<text x="149.00" y="460.90" font-size="7.8" text-anchor="middle" class="S" fill="#000">4134</text>
<text x="46.60" y="297.80" font-size="8.2" text-anchor="start" class="S" fill="#000">DEGs</text>
<text x="229.40" y="297.60" font-size="8.2" text-anchor="start" class="S" fill="#000">Immune</text>
<text x="144.90" y="503.90" font-size="8.3" text-anchor="middle" class="S" fill="#000">WGCNA</text>
<text x="372.30" y="292.70" font-size="11" text-anchor="start" class="F" fill="#000">D</text>
<text x="453.00" y="295.40" font-size="6.2" text-anchor="middle" class="F" fill="#000">pvalue</text>
<text x="530.60" y="295.40" font-size="6.2" text-anchor="end" class="F" fill="#000">Hazard ratio</text>
<line x1="615.70" y1="288.80" x2="615.70" y2="497.00" stroke="#444" stroke-width="0.8" stroke-dasharray="3 2"/>
<text x="401.50" y="304.30" font-size="6.2" text-anchor="start" class="F" fill="#000">ACKR3</text>
<text x="461.70" y="304.30" font-size="6.2" text-anchor="end" class="F" fill="#000"><0.001</text>
<text x="530.60" y="304.30" font-size="6.2" text-anchor="end" class="F" fill="#000">1.284(1.117−1.476)</text>
<line x1="618.88" y1="302.10" x2="626.40" y2="302.10" stroke="#1A1A8C" stroke-width="0.9"/>
<line x1="618.88" y1="299.80" x2="618.88" y2="304.40" stroke="#1A1A8C" stroke-width="0.9"/>
<line x1="626.40" y1="299.80" x2="626.40" y2="304.40" stroke="#1A1A8C" stroke-width="0.9"/>
<rect x="620.44" y="300.15" width="4.40" height="3.90" fill="#FF0000"/>
<text x="401.50" y="313.34" font-size="6.2" text-anchor="start" class="F" fill="#000">APOBEC3G</text>
<text x="461.70" y="313.34" font-size="6.2" text-anchor="end" class="F" fill="#000">0.011</text>
<text x="530.60" y="313.34" font-size="6.2" text-anchor="end" class="F" fill="#000">0.774(0.635−0.942)</text>
<line x1="603.65" y1="311.14" x2="614.29" y2="311.14" stroke="#1A1A8C" stroke-width="0.9"/>
<line x1="603.65" y1="308.84" x2="603.65" y2="313.44" stroke="#1A1A8C" stroke-width="0.9"/>
<line x1="614.29" y1="308.84" x2="614.29" y2="313.44" stroke="#1A1A8C" stroke-width="0.9"/>
<rect x="606.79" y="309.19" width="4.40" height="3.90" fill="#00EE00"/>
<text x="401.50" y="322.38" font-size="6.2" text-anchor="start" class="F" fill="#000">CCL19</text>
<text x="461.70" y="322.38" font-size="6.2" text-anchor="end" class="F" fill="#000">0.038</text>
<text x="530.60" y="322.38" font-size="6.2" text-anchor="end" class="F" fill="#000">1.113(1.006−1.232)</text>
<line x1="616.06" y1="320.18" x2="621.53" y2="320.18" stroke="#1A1A8C" stroke-width="0.9"/>
<line x1="616.06" y1="317.88" x2="616.06" y2="322.48" stroke="#1A1A8C" stroke-width="0.9"/>
<line x1="621.53" y1="317.88" x2="621.53" y2="322.48" stroke="#1A1A8C" stroke-width="0.9"/>
<rect x="616.59" y="318.23" width="4.40" height="3.90" fill="#FF0000"/>
<text x="401.50" y="331.42" font-size="6.2" text-anchor="start" class="F" fill="#000">CCL21</text>
<text x="461.70" y="331.42" font-size="6.2" text-anchor="end" class="F" fill="#000">0.039</text>
<text x="530.60" y="331.42" font-size="6.2" text-anchor="end" class="F" fill="#000">1.101(1.005−1.207)</text>
<line x1="616.03" y1="329.22" x2="620.97" y2="329.22" stroke="#1A1A8C" stroke-width="0.9"/>
<line x1="616.03" y1="326.92" x2="616.03" y2="331.52" stroke="#1A1A8C" stroke-width="0.9"/>
<line x1="620.97" y1="326.92" x2="620.97" y2="331.52" stroke="#1A1A8C" stroke-width="0.9"/>
<rect x="616.29" y="327.27" width="4.40" height="3.90" fill="#FF0000"/>
<text x="401.50" y="340.46" font-size="6.2" text-anchor="start" class="F" fill="#000">CXCL12</text>
<text x="461.70" y="340.46" font-size="6.2" text-anchor="end" class="F" fill="#000">0.002</text>
<text x="530.60" y="340.46" font-size="6.2" text-anchor="end" class="F" fill="#000">1.239(1.079−1.423)</text>
<line x1="617.95" y1="338.26" x2="625.41" y2="338.26" stroke="#1A1A8C" stroke-width="0.9"/>
<line x1="617.95" y1="335.96" x2="617.95" y2="340.56" stroke="#1A1A8C" stroke-width="0.9"/>
<line x1="625.41" y1="335.96" x2="625.41" y2="340.56" stroke="#1A1A8C" stroke-width="0.9"/>
<rect x="619.48" y="336.31" width="4.40" height="3.90" fill="#FF0000"/>
<text x="401.50" y="349.50" font-size="6.2" text-anchor="start" class="F" fill="#000">DHX58</text>
<text x="461.70" y="349.50" font-size="6.2" text-anchor="end" class="F" fill="#000">0.022</text>
<text x="530.60" y="349.50" font-size="6.2" text-anchor="end" class="F" fill="#000">0.709(0.529−0.951)</text>
<line x1="598.73" y1="347.30" x2="614.55" y2="347.30" stroke="#1A1A8C" stroke-width="0.9"/>
<line x1="598.73" y1="345.00" x2="598.73" y2="349.60" stroke="#1A1A8C" stroke-width="0.9"/>
<line x1="614.55" y1="345.00" x2="614.55" y2="349.60" stroke="#1A1A8C" stroke-width="0.9"/>
<rect x="604.43" y="345.35" width="4.40" height="3.90" fill="#00EE00"/>
<text x="401.50" y="358.54" font-size="6.2" text-anchor="start" class="F" fill="#000">LMBR1L</text>
<text x="461.70" y="358.54" font-size="6.2" text-anchor="end" class="F" fill="#000">0.003</text>
<text x="530.60" y="358.54" font-size="6.2" text-anchor="end" class="F" fill="#000">0.570(0.394−0.826)</text>
<line x1="590.78" y1="356.34" x2="610.74" y2="356.34" stroke="#1A1A8C" stroke-width="0.9"/>
<line x1="590.78" y1="354.04" x2="590.78" y2="358.64" stroke="#1A1A8C" stroke-width="0.9"/>
<line x1="610.74" y1="354.04" x2="610.74" y2="358.64" stroke="#1A1A8C" stroke-width="0.9"/>
<rect x="598.54" y="354.39" width="4.40" height="3.90" fill="#00EE00"/>
<text x="401.50" y="367.58" font-size="6.2" text-anchor="start" class="F" fill="#000">MMP9</text>
<text x="461.70" y="367.58" font-size="6.2" text-anchor="end" class="F" fill="#000">0.009</text>
<text x="530.60" y="367.58" font-size="6.2" text-anchor="end" class="F" fill="#000">1.155(1.037−1.287)</text>
<line x1="616.88" y1="365.38" x2="622.70" y2="365.38" stroke="#1A1A8C" stroke-width="0.9"/>
<line x1="616.88" y1="363.08" x2="616.88" y2="367.68" stroke="#1A1A8C" stroke-width="0.9"/>
<line x1="622.70" y1="363.08" x2="622.70" y2="367.68" stroke="#1A1A8C" stroke-width="0.9"/>
<rect x="617.59" y="363.43" width="4.40" height="3.90" fill="#FF0000"/>
<text x="401.50" y="376.62" font-size="6.2" text-anchor="start" class="F" fill="#000">NFATC1</text>
<text x="461.70" y="376.62" font-size="6.2" text-anchor="end" class="F" fill="#000">0.003</text>
<text x="530.60" y="376.62" font-size="6.2" text-anchor="end" class="F" fill="#000">1.596(1.170−2.178)</text>
<line x1="620.13" y1="374.42" x2="636.89" y2="374.42" stroke="#1A1A8C" stroke-width="0.9"/>
<line x1="620.13" y1="372.12" x2="620.13" y2="376.72" stroke="#1A1A8C" stroke-width="0.9"/>
<line x1="636.89" y1="372.12" x2="636.89" y2="376.72" stroke="#1A1A8C" stroke-width="0.9"/>
<rect x="626.31" y="372.47" width="4.40" height="3.90" fill="#FF0000"/>
<text x="401.50" y="385.66" font-size="6.2" text-anchor="start" class="F" fill="#000">NR3C1</text>
<text x="461.70" y="385.66" font-size="6.2" text-anchor="end" class="F" fill="#000">0.050</text>
<text x="530.60" y="385.66" font-size="6.2" text-anchor="end" class="F" fill="#000">1.278(1.000−1.632)</text>
<line x1="615.90" y1="383.46" x2="629.11" y2="383.46" stroke="#1A1A8C" stroke-width="0.9"/>
<line x1="615.90" y1="381.16" x2="615.90" y2="385.76" stroke="#1A1A8C" stroke-width="0.9"/>
<line x1="629.11" y1="381.16" x2="629.11" y2="385.76" stroke="#1A1A8C" stroke-width="0.9"/>
<rect x="620.32" y="381.51" width="4.40" height="3.90" fill="#FF0000"/>
<text x="401.50" y="394.70" font-size="6.2" text-anchor="start" class="F" fill="#000">PDGFD</text>
<text x="461.70" y="394.70" font-size="6.2" text-anchor="end" class="F" fill="#000">0.008</text>
<text x="530.60" y="394.70" font-size="6.2" text-anchor="end" class="F" fill="#000">1.368(1.084−1.725)</text>
<line x1="618.08" y1="392.50" x2="630.60" y2="392.50" stroke="#1A1A8C" stroke-width="0.9"/>
<line x1="618.08" y1="390.20" x2="618.08" y2="394.80" stroke="#1A1A8C" stroke-width="0.9"/>
<line x1="630.60" y1="390.20" x2="630.60" y2="394.80" stroke="#1A1A8C" stroke-width="0.9"/>
<rect x="622.15" y="390.55" width="4.40" height="3.90" fill="#FF0000"/>
<text x="401.50" y="403.74" font-size="6.2" text-anchor="start" class="F" fill="#000">PLXNB1</text>
<text x="461.70" y="403.74" font-size="6.2" text-anchor="end" class="F" fill="#000">0.005</text>
<text x="530.60" y="403.74" font-size="6.2" text-anchor="end" class="F" fill="#000">0.740(0.599−0.914)</text>
<line x1="602.08" y1="401.54" x2="613.47" y2="401.54" stroke="#1A1A8C" stroke-width="0.9"/>
<line x1="602.08" y1="399.24" x2="602.08" y2="403.84" stroke="#1A1A8C" stroke-width="0.9"/>
<line x1="613.47" y1="399.24" x2="613.47" y2="403.84" stroke="#1A1A8C" stroke-width="0.9"/>
<rect x="605.58" y="399.59" width="4.40" height="3.90" fill="#00EE00"/>
<text x="401.50" y="412.78" font-size="6.2" text-anchor="start" class="F" fill="#000">PPP3CC</text>
<text x="461.70" y="412.78" font-size="6.2" text-anchor="end" class="F" fill="#000">0.022</text>
<text x="530.60" y="412.78" font-size="6.2" text-anchor="end" class="F" fill="#000">1.662(1.078−2.564)</text>
<line x1="617.93" y1="410.58" x2="641.29" y2="410.58" stroke="#1A1A8C" stroke-width="0.9"/>
<line x1="617.93" y1="408.28" x2="617.93" y2="412.88" stroke="#1A1A8C" stroke-width="0.9"/>
<line x1="641.29" y1="408.28" x2="641.29" y2="412.88" stroke="#1A1A8C" stroke-width="0.9"/>
<rect x="627.40" y="408.63" width="4.40" height="3.90" fill="#FF0000"/>
<text x="401.50" y="421.82" font-size="6.2" text-anchor="start" class="F" fill="#000">PSMB8</text>
<text x="461.70" y="421.82" font-size="6.2" text-anchor="end" class="F" fill="#000">0.034</text>
<text x="530.60" y="421.82" font-size="6.2" text-anchor="end" class="F" fill="#000">0.817(0.677−0.984)</text>
<line x1="605.38" y1="419.62" x2="615.46" y2="419.62" stroke="#1A1A8C" stroke-width="0.9"/>
<line x1="605.38" y1="417.32" x2="605.38" y2="421.92" stroke="#1A1A8C" stroke-width="0.9"/>
<line x1="615.46" y1="417.32" x2="615.46" y2="421.92" stroke="#1A1A8C" stroke-width="0.9"/>
<rect x="608.25" y="417.67" width="4.40" height="3.90" fill="#00EE00"/>
<text x="401.50" y="430.86" font-size="6.2" text-anchor="start" class="F" fill="#000">PSME2</text>
<text x="461.70" y="430.86" font-size="6.2" text-anchor="end" class="F" fill="#000">0.041</text>
<text x="530.60" y="430.86" font-size="6.2" text-anchor="end" class="F" fill="#000">0.767(0.594−0.989)</text>
<line x1="601.85" y1="428.66" x2="615.60" y2="428.66" stroke="#1A1A8C" stroke-width="0.9"/>
<line x1="601.85" y1="426.36" x2="601.85" y2="430.96" stroke="#1A1A8C" stroke-width="0.9"/>
<line x1="615.60" y1="426.36" x2="615.60" y2="430.96" stroke="#1A1A8C" stroke-width="0.9"/>
<rect x="606.55" y="426.71" width="4.40" height="3.90" fill="#00EE00"/>
<text x="401.50" y="439.90" font-size="6.2" text-anchor="start" class="F" fill="#000">PTPN6</text>
<text x="461.70" y="439.90" font-size="6.2" text-anchor="end" class="F" fill="#000"><0.001</text>
<text x="530.60" y="439.90" font-size="6.2" text-anchor="end" class="F" fill="#000">0.583(0.445−0.765)</text>
<line x1="594.06" y1="437.70" x2="608.68" y2="437.70" stroke="#1A1A8C" stroke-width="0.9"/>
<line x1="594.06" y1="435.40" x2="594.06" y2="440.00" stroke="#1A1A8C" stroke-width="0.9"/>
<line x1="608.68" y1="435.40" x2="608.68" y2="440.00" stroke="#1A1A8C" stroke-width="0.9"/>
<rect x="599.15" y="435.75" width="4.40" height="3.90" fill="#00EE00"/>
<text x="401.50" y="448.94" font-size="6.2" text-anchor="start" class="F" fill="#000">S100A6</text>
<text x="461.70" y="448.94" font-size="6.2" text-anchor="end" class="F" fill="#000">0.043</text>
<text x="530.60" y="448.94" font-size="6.2" text-anchor="end" class="F" fill="#000">0.877(0.772−0.996)</text>
<line x1="608.92" y1="446.74" x2="615.79" y2="446.74" stroke="#1A1A8C" stroke-width="0.9"/>
<line x1="608.92" y1="444.44" x2="608.92" y2="449.04" stroke="#1A1A8C" stroke-width="0.9"/>
<line x1="615.79" y1="444.44" x2="615.79" y2="449.04" stroke="#1A1A8C" stroke-width="0.9"/>
<rect x="610.16" y="444.79" width="4.40" height="3.90" fill="#00EE00"/>
<text x="401.50" y="457.98" font-size="6.2" text-anchor="start" class="F" fill="#000">S1PR2</text>
<text x="461.70" y="457.98" font-size="6.2" text-anchor="end" class="F" fill="#000">0.007</text>
<text x="530.60" y="457.98" font-size="6.2" text-anchor="end" class="F" fill="#000">1.563(1.132−2.158)</text>
<line x1="619.24" y1="455.78" x2="636.64" y2="455.78" stroke="#1A1A8C" stroke-width="0.9"/>
<line x1="619.24" y1="453.48" x2="619.24" y2="458.08" stroke="#1A1A8C" stroke-width="0.9"/>
<line x1="636.64" y1="453.48" x2="636.64" y2="458.08" stroke="#1A1A8C" stroke-width="0.9"/>
<rect x="625.74" y="453.83" width="4.40" height="3.90" fill="#FF0000"/>
<text x="401.50" y="467.02" font-size="6.2" text-anchor="start" class="F" fill="#000">SDC2</text>
<text x="461.70" y="467.02" font-size="6.2" text-anchor="end" class="F" fill="#000">0.040</text>
<text x="530.60" y="467.02" font-size="6.2" text-anchor="end" class="F" fill="#000">1.173(1.007−1.367)</text>
<line x1="616.09" y1="464.82" x2="624.33" y2="464.82" stroke="#1A1A8C" stroke-width="0.9"/>
<line x1="616.09" y1="462.52" x2="616.09" y2="467.12" stroke="#1A1A8C" stroke-width="0.9"/>
<line x1="624.33" y1="462.52" x2="624.33" y2="467.12" stroke="#1A1A8C" stroke-width="0.9"/>
<rect x="618.00" y="462.87" width="4.40" height="3.90" fill="#FF0000"/>
<text x="401.50" y="476.06" font-size="6.2" text-anchor="start" class="F" fill="#000">SRC</text>
<text x="461.70" y="476.06" font-size="6.2" text-anchor="end" class="F" fill="#000">0.001</text>
<text x="530.60" y="476.06" font-size="6.2" text-anchor="end" class="F" fill="#000">0.702(0.565−0.873)</text>
<line x1="600.50" y1="473.86" x2="612.24" y2="473.86" stroke="#1A1A8C" stroke-width="0.9"/>
<line x1="600.50" y1="471.56" x2="600.50" y2="476.16" stroke="#1A1A8C" stroke-width="0.9"/>
<line x1="612.24" y1="471.56" x2="612.24" y2="476.16" stroke="#1A1A8C" stroke-width="0.9"/>
<rect x="604.16" y="471.91" width="4.40" height="3.90" fill="#00EE00"/>
<text x="401.50" y="485.10" font-size="6.2" text-anchor="start" class="F" fill="#000">TAPBP</text>
<text x="461.70" y="485.10" font-size="6.2" text-anchor="end" class="F" fill="#000">0.048</text>
<text x="530.60" y="485.10" font-size="6.2" text-anchor="end" class="F" fill="#000">0.772(0.597−0.998)</text>
<line x1="601.99" y1="482.90" x2="615.85" y2="482.90" stroke="#1A1A8C" stroke-width="0.9"/>
<line x1="601.99" y1="480.60" x2="601.99" y2="485.20" stroke="#1A1A8C" stroke-width="0.9"/>
<line x1="615.85" y1="480.60" x2="615.85" y2="485.20" stroke="#1A1A8C" stroke-width="0.9"/>
<rect x="606.72" y="480.95" width="4.40" height="3.90" fill="#00EE00"/>
<text x="401.50" y="494.14" font-size="6.2" text-anchor="start" class="F" fill="#000">TNFRSF12A</text>
<text x="461.70" y="494.14" font-size="6.2" text-anchor="end" class="F" fill="#000">0.042</text>
<text x="530.60" y="494.14" font-size="6.2" text-anchor="end" class="F" fill="#000">1.196(1.007−1.421)</text>
<line x1="616.09" y1="491.94" x2="625.38" y2="491.94" stroke="#1A1A8C" stroke-width="0.9"/>
<line x1="616.09" y1="489.64" x2="616.09" y2="494.24" stroke="#1A1A8C" stroke-width="0.9"/>
<line x1="625.38" y1="489.64" x2="625.38" y2="494.24" stroke="#1A1A8C" stroke-width="0.9"/>
<rect x="618.53" y="489.99" width="4.40" height="3.90" fill="#FF0000"/>
<line x1="553.80" y1="500.00" x2="678.10" y2="500.00" stroke="#333" stroke-width="0.8"/>
<line x1="553.80" y1="500.00" x2="553.80" y2="503.50" stroke="#333" stroke-width="0.8"/>
<line x1="584.88" y1="500.00" x2="584.88" y2="503.50" stroke="#333" stroke-width="0.8"/>
<line x1="615.95" y1="500.00" x2="615.95" y2="503.50" stroke="#333" stroke-width="0.8"/>
<line x1="647.02" y1="500.00" x2="647.02" y2="503.50" stroke="#333" stroke-width="0.8"/>
<line x1="678.10" y1="500.00" x2="678.10" y2="503.50" stroke="#333" stroke-width="0.8"/>
<text x="553.80" y="511.40" font-size="6.6" text-anchor="middle" class="F" fill="#000">0.1</text>
<text x="615.90" y="511.40" font-size="6.6" text-anchor="middle" class="F" fill="#000">1</text>
<text x="678.10" y="511.40" font-size="6.6" text-anchor="middle" class="F" fill="#000">10</text>
<text x="616.00" y="524.60" font-size="7.4" text-anchor="middle" class="F" fill="#000">Hazard ratio</text>
<text x="13.10" y="554.90" font-size="11" text-anchor="start" class="F" fill="#000">E</text>
<path d="M76 664.1999999999999H147" stroke="#9CCBEA" stroke-width="1.7" fill="none"/>
<path d="M147 663.9H217" stroke="#A8DD9C" stroke-width="1.1" fill="none"/>
<path d="M217 663.9H226" stroke="#999" stroke-width="1.1" fill="none"/>
<path d="M226 663.9H252" stroke="#A8DD9C" stroke-width="1.1" fill="none"/>
<path d="M252 663.9H294" stroke="#8FD3EC" stroke-width="1.1" fill="none"/>
<path d="M56.00 575.40 L58.63 575.56 L62.30 575.77 L66.62 576.02 L71.26 576.32 L75.84 576.65 L80.00 577.00 L83.82 577.40 L87.59 577.85 L91.31 578.33 L94.96 578.83 L98.53 579.33 L102.00 579.80 L105.34 580.24 L108.56 580.65 L111.69 581.06 L114.78 581.49 L117.87 581.96 L121.00 582.50 L124.14 583.13 L127.26 583.84 L130.38 584.60 L133.52 585.37 L136.72 586.11 L140.00 586.80 L143.47 587.43 L147.11 588.04 L150.81 588.62 L154.44 589.19 L157.88 589.74 L161.00 590.30 L163.60 590.81 L165.74 591.26 L167.69 591.69 L169.70 592.18 L172.05 592.76 L175.00 593.50 L178.65 594.40 L182.81 595.42 L187.31 596.54 L191.96 597.74 L196.59 599.00 L201.00 600.30 L205.25 601.66 L209.48 603.10 L213.69 604.60 L217.85 606.13 L221.96 607.68 L226.00 609.20 L230.04 610.70 L234.11 612.19 L238.12 613.69 L242.00 615.21 L245.65 616.78 L249.00 618.40 L251.96 620.04 L254.58 621.68 L256.98 623.36 L259.27 625.13 L261.58 627.03 L264.00 629.10 L266.54 631.35 L269.10 633.74 L271.68 636.26 L274.24 638.90 L276.79 641.65 L279.30 644.50 L281.94 647.73 L284.76 651.39 L287.56 655.16 L290.14 658.72 L292.32 661.74 L293.90 663.90" stroke="#000000" stroke-width="0.7" stroke-opacity="0.85" fill="none" stroke-linejoin="round"/>
<path d="M56.00 582.50 L58.57 582.79 L62.09 583.16 L66.27 583.62 L70.84 584.16 L75.51 584.79 L80.00 585.50 L84.46 586.28 L89.16 587.13 L93.95 588.06 L98.71 589.10 L103.31 590.28 L107.60 591.60 L111.63 593.13 L115.50 594.87 L119.21 596.74 L122.74 598.67 L126.07 600.58 L129.20 602.40 L132.04 604.09 L134.59 605.71 L136.94 607.31 L139.19 608.95 L141.45 610.69 L143.80 612.60 L146.32 614.75 L148.94 617.10 L151.56 619.55 L154.07 622.00 L156.39 624.35 L158.40 626.50 L160.04 628.41 L161.37 630.17 L162.51 631.83 L163.54 633.44 L164.57 635.04 L165.70 636.70 L166.92 638.41 L168.13 640.13 L169.35 641.84 L170.57 643.55 L171.78 645.24 L173.00 646.90 L174.24 648.55 L175.51 650.19 L176.79 651.82 L178.03 653.41 L179.21 654.94 L180.30 656.40 L181.34 657.85 L182.35 659.33 L183.31 660.74 L184.16 662.03 L184.87 663.11 L185.40 663.90" stroke="#CD0BBC" stroke-width="0.7" stroke-opacity="0.85" fill="none" stroke-linejoin="round"/>
<path d="M56.00 583.20 L58.57 583.54 L62.09 583.98 L66.27 584.52 L70.84 585.13 L75.51 585.80 L80.00 586.50 L84.46 587.24 L89.16 588.03 L93.95 588.87 L98.71 589.78 L103.31 590.75 L107.60 591.80 L111.63 592.97 L115.50 594.26 L119.21 595.62 L122.74 596.99 L126.07 598.30 L129.20 599.50 L132.04 600.58 L134.59 601.57 L136.94 602.51 L139.19 603.43 L141.45 604.35 L143.80 605.30 L146.29 606.31 L148.85 607.36 L151.41 608.41 L153.90 609.42 L156.26 610.37 L158.40 611.20 L160.24 611.90 L161.81 612.49 L163.24 613.00 L164.66 613.48 L166.20 613.97 L168.00 614.50 L170.03 615.03 L172.19 615.50 L174.47 615.99 L176.87 616.53 L179.38 617.18 L182.00 618.00 L184.77 618.99 L187.70 620.12 L190.75 621.36 L193.85 622.68 L196.95 624.07 L200.00 625.50 L203.03 627.05 L206.10 628.77 L209.17 630.55 L212.20 632.30 L215.16 633.91 L218.00 635.30 L220.71 636.37 L223.30 637.19 L225.82 637.88 L228.30 638.56 L230.78 639.36 L233.30 640.40 L235.94 641.75 L238.68 643.31 L241.43 644.99 L244.06 646.69 L246.49 648.33 L248.60 649.80 L250.34 651.09 L251.79 652.27 L253.03 653.39 L254.13 654.47 L255.20 655.56 L256.30 656.70 L257.48 657.97 L258.68 659.34 L259.83 660.73 L260.88 662.02 L261.75 663.11 L262.40 663.90" stroke="#28E2E5" stroke-width="0.7" stroke-opacity="0.85" fill="none" stroke-linejoin="round"/>
<path d="M56.00 586.40 L58.66 586.62 L62.37 586.92 L66.75 587.28 L71.41 587.68 L75.95 588.09 L80.00 588.50 L83.46 588.86 L86.63 589.17 L89.69 589.51 L92.81 589.91 L96.19 590.46 L100.00 591.20 L104.31 592.17 L109.00 593.33 L113.94 594.63 L119.00 596.00 L124.06 597.41 L129.00 598.80 L134.01 600.23 L139.22 601.77 L144.44 603.34 L149.44 604.87 L154.03 606.28 L158.00 607.50 L161.21 608.47 L163.80 609.25 L165.97 609.91 L167.93 610.54 L169.87 611.21 L172.00 612.00 L174.31 612.93 L176.65 613.92 L178.98 614.96 L181.24 616.02 L183.39 617.08 L185.40 618.10 L187.22 619.06 L188.87 619.99 L190.41 620.90 L191.91 621.85 L193.42 622.87 L195.00 624.00 L196.67 625.28 L198.38 626.68 L200.10 628.15 L201.80 629.64 L203.44 631.11 L205.00 632.50 L206.48 633.84 L207.93 635.17 L209.31 636.47 L210.63 637.72 L211.86 638.91 L213.00 640.00 L213.97 640.97 L214.78 641.81 L215.50 642.59 L216.22 643.35 L217.03 644.14 L218.00 645.00 L219.15 645.94 L220.41 646.91 L221.75 647.91 L223.15 648.93 L224.57 649.96 L226.00 651.00 L227.44 652.06 L228.91 653.13 L230.41 654.23 L231.93 655.32 L233.46 656.42 L235.00 657.50 L236.66 658.65 L238.48 659.88 L240.31 661.11 L242.02 662.24 L243.46 663.20 L244.50 663.90" stroke="#000000" stroke-width="0.7" stroke-opacity="0.85" fill="none" stroke-linejoin="round"/>
<path d="M56.00 614.30 L60.96 614.58 L67.96 614.96 L76.19 615.42 L84.81 615.93 L93.03 616.46 L100.00 617.00 L105.70 617.53 L110.78 618.06 L115.44 618.61 L119.89 619.22 L124.34 619.91 L129.00 620.70 L133.91 621.63 L138.93 622.69 L143.94 623.82 L148.85 624.98 L153.57 626.12 L158.00 627.20 L162.13 628.22 L166.04 629.23 L169.75 630.23 L173.30 631.19 L176.70 632.12 L180.00 633.00 L183.08 633.80 L185.89 634.50 L188.56 635.17 L191.22 635.86 L193.99 636.62 L197.00 637.50 L200.25 638.55 L203.63 639.74 L207.12 641.00 L210.70 642.26 L214.34 643.45 L218.00 644.50 L221.81 645.38 L225.80 646.12 L229.86 646.80 L233.83 647.47 L237.59 648.18 L241.00 649.00 L244.03 649.91 L246.78 650.85 L249.32 651.84 L251.71 652.89 L254.01 654.00 L256.30 655.20 L258.67 656.61 L261.08 658.24 L263.41 659.94 L265.52 661.55 L267.30 662.92 L268.60 663.90" stroke="#DF536B" stroke-width="0.7" stroke-opacity="0.85" fill="none" stroke-linejoin="round"/>
<path d="M56.00 614.80 L60.96 615.20 L67.96 615.74 L76.19 616.38 L84.81 617.09 L93.03 617.81 L100.00 618.50 L105.70 619.15 L110.78 619.80 L115.44 620.46 L119.89 621.17 L124.34 621.94 L129.00 622.80 L133.91 623.80 L138.93 624.92 L143.94 626.11 L148.85 627.30 L153.57 628.45 L158.00 629.50 L162.13 630.44 L166.04 631.33 L169.75 632.17 L173.30 632.97 L176.70 633.74 L180.00 634.50 L183.08 635.19 L185.89 635.81 L188.56 636.39 L191.22 637.00 L193.99 637.69 L197.00 638.50 L200.25 639.50 L203.63 640.67 L207.12 641.91 L210.70 643.13 L214.34 644.26 L218.00 645.20 L221.84 645.90 L225.92 646.42 L230.05 646.84 L234.06 647.24 L237.77 647.70 L241.00 648.30 L243.69 649.00 L245.98 649.72 L247.96 650.50 L249.76 651.38 L251.47 652.40 L253.20 653.60 L255.01 655.15 L256.83 657.04 L258.56 659.08 L260.13 661.04 L261.43 662.72 L262.40 663.90" stroke="#CD0BBC" stroke-width="0.7" stroke-opacity="0.85" fill="none" stroke-linejoin="round"/>
<path d="M56.00 631.80 L60.79 631.97 L67.41 632.20 L75.26 632.48 L83.72 632.79 L92.17 633.10 L100.00 633.40 L107.48 633.70 L115.16 634.00 L122.83 634.32 L130.29 634.64 L137.35 634.97 L143.80 635.30 L149.54 635.61 L154.70 635.90 L159.45 636.19 L163.97 636.52 L168.43 636.91 L173.00 637.40 L177.73 637.99 L182.50 638.68 L187.20 639.42 L191.75 640.21 L196.05 641.01 L200.00 641.80 L203.46 642.55 L206.48 643.26 L209.25 643.99 L211.96 644.78 L214.81 645.67 L218.00 646.70 L221.63 647.94 L225.58 649.36 L229.67 650.88 L233.72 652.41 L237.55 653.88 L241.00 655.20 L244.08 656.40 L246.95 657.54 L249.61 658.62 L252.05 659.61 L254.28 660.51 L256.30 661.30 L258.11 661.97 L259.71 662.52 L261.11 662.98 L262.29 663.36 L263.25 663.66 L264.00 663.90" stroke="#2297E6" stroke-width="0.7" stroke-opacity="0.85" fill="none" stroke-linejoin="round"/>
<path d="M56.00 644.70 L59.92 644.98 L65.52 645.36 L72.06 645.82 L78.81 646.31 L85.04 646.82 L90.00 647.30 L93.61 647.77 L96.44 648.24 L98.75 648.73 L100.78 649.22 L102.78 649.71 L105.00 650.20 L107.41 650.68 L109.81 651.15 L112.19 651.62 L114.52 652.10 L116.79 652.59 L119.00 653.10 L121.14 653.62 L123.22 654.15 L125.25 654.69 L127.22 655.25 L129.14 655.85 L131.00 656.50 L132.81 657.23 L134.58 658.04 L136.29 658.89 L137.94 659.73 L139.51 660.52 L141.00 661.20 L142.46 661.80 L143.90 662.35 L145.28 662.84 L146.51 663.27 L147.54 663.63 L148.30 663.90" stroke="#61D04F" stroke-width="0.7" stroke-opacity="0.85" fill="none" stroke-linejoin="round"/>
<path d="M56.00 647.20 L59.86 647.26 L65.33 647.33 L71.75 647.43 L78.44 647.56 L84.75 647.74 L90.00 648.00 L94.10 648.34 L97.56 648.75 L100.64 649.21 L103.57 649.72 L106.61 650.25 L110.00 650.80 L113.74 651.37 L117.62 651.99 L121.61 652.62 L125.67 653.28 L129.74 653.94 L133.80 654.60 L138.00 655.27 L142.42 655.97 L146.86 656.68 L151.13 657.36 L155.04 658.01 L158.40 658.60 L161.10 659.12 L163.28 659.59 L165.09 660.03 L166.71 660.43 L168.29 660.82 L170.00 661.20 L171.86 661.58 L173.74 661.96 L175.58 662.32 L177.33 662.65 L178.92 662.95 L180.30 663.20 L181.46 663.40 L182.46 663.56 L183.29 663.68 L183.99 663.77 L184.55 663.84 L185.00 663.90" stroke="#2297E6" stroke-width="0.7" stroke-opacity="0.85" fill="none" stroke-linejoin="round"/>
<path d="M56.00 659.40 L60.74 659.45 L67.26 659.52 L75.00 659.61 L83.41 659.69 L91.93 659.76 L100.00 659.80 L108.07 659.83 L116.67 659.87 L125.38 659.89 L133.78 659.89 L141.46 659.83 L148.00 659.70 L153.19 659.48 L157.33 659.19 L160.75 658.84 L163.78 658.48 L166.75 658.12 L170.00 657.80 L173.36 657.50 L176.52 657.18 L179.62 656.87 L182.81 656.59 L186.23 656.36 L190.00 656.20 L194.26 656.10 L198.93 656.04 L203.81 656.04 L208.74 656.09 L213.53 656.21 L218.00 656.40 L222.25 656.67 L226.44 657.00 L230.50 657.41 L234.33 657.87 L237.86 658.41 L241.00 659.00 L243.78 659.74 L246.26 660.64 L248.44 661.61 L250.30 662.54 L251.82 663.34 L253.00 663.90" stroke="#61D04F" stroke-width="0.7" stroke-opacity="0.85" fill="none" stroke-linejoin="round"/>
<path d="M56.00 665.20 L57.08 665.18 L58.56 665.16 L60.31 665.13 L62.22 665.09 L64.16 665.05 L66.00 665.00 L67.90 664.94 L70.00 664.87 L72.12 664.79 L74.11 664.71 L75.79 664.65 L77.00 664.60" stroke="#2297E6" stroke-width="0.7" stroke-opacity="0.85" fill="none" stroke-linejoin="round"/>
<path d="M56.00 677.60 L59.59 677.50 L64.45 677.38 L70.26 677.23 L76.68 677.04 L83.37 676.80 L90.00 676.50 L96.90 676.13 L104.41 675.69 L112.20 675.21 L119.92 674.69 L127.23 674.14 L133.80 673.60 L139.54 673.03 L144.70 672.43 L149.45 671.81 L153.97 671.18 L158.43 670.57 L163.00 670.00 L167.69 669.47 L172.37 668.96 L176.99 668.47 L181.50 667.99 L185.86 667.50 L190.00 667.00 L194.13 666.45 L198.31 665.86 L202.34 665.26 L205.99 664.71 L209.05 664.24 L211.30 663.90" stroke="#28E2E5" stroke-width="0.7" stroke-opacity="0.85" fill="none" stroke-linejoin="round"/>
<path d="M56.00 689.70 L59.76 689.35 L65.00 688.87 L71.19 688.31 L77.78 687.68 L84.23 687.03 L90.00 686.40 L95.27 685.77 L100.52 685.10 L105.62 684.41 L110.48 683.71 L114.98 683.00 L119.00 682.30 L122.45 681.61 L125.39 680.94 L127.98 680.26 L130.34 679.56 L132.63 678.81 L135.00 678.00 L137.43 677.10 L139.80 676.12 L142.10 675.10 L144.31 674.07 L146.42 673.06 L148.40 672.10 L150.26 671.18 L152.01 670.27 L153.66 669.38 L155.21 668.52 L156.65 667.73 L158.00 667.00 L159.28 666.33 L160.49 665.70 L161.60 665.13 L162.58 664.63 L163.39 664.21 L164.00 663.90" stroke="#28E2E5" stroke-width="0.7" stroke-opacity="0.85" fill="none" stroke-linejoin="round"/>
<path d="M56.00 690.30 L59.86 689.75 L65.33 688.98 L71.75 688.07 L78.44 687.10 L84.75 686.15 L90.00 685.30 L94.20 684.57 L97.89 683.90 L101.19 683.24 L104.22 682.57 L107.12 681.84 L110.00 681.00 L112.81 680.08 L115.44 679.13 L117.92 678.11 L120.32 677.01 L122.66 675.81 L125.00 674.50 L127.38 672.93 L129.77 671.08 L132.11 669.13 L134.34 667.27 L136.39 665.66 L138.20 664.50 L139.78 663.85 L141.19 663.58 L142.42 663.58 L143.47 663.71 L144.33 663.86 L145.00 663.90" stroke="#61D04F" stroke-width="0.7" stroke-opacity="0.85" fill="none" stroke-linejoin="round"/>
<path d="M56.00 691.20 L59.58 691.02 L64.44 690.78 L70.25 690.49 L76.67 690.18 L83.36 689.87 L90.00 689.60 L96.93 689.36 L104.48 689.12 L112.31 688.89 L120.07 688.67 L127.42 688.44 L134.00 688.20 L139.78 687.94 L145.04 687.66 L149.88 687.38 L154.41 687.11 L158.75 686.88 L163.00 686.70 L166.92 686.61 L170.37 686.59 L173.62 686.61 L176.96 686.62 L180.66 686.56 L185.00 686.40 L190.31 686.12 L196.44 685.76 L202.94 685.34 L209.33 684.88 L215.17 684.39 L220.00 683.90 L223.66 683.38 L226.48 682.83 L228.75 682.24 L230.74 681.65 L232.73 681.07 L235.00 680.50 L237.55 679.97 L240.16 679.48 L242.77 678.99 L245.32 678.49 L247.75 677.93 L250.00 677.30 L252.07 676.59 L254.02 675.82 L255.84 675.00 L257.56 674.15 L259.17 673.28 L260.70 672.40 L262.13 671.48 L263.44 670.49 L264.66 669.47 L265.79 668.49 L266.83 667.59 L267.80 666.80 L268.70 666.13 L269.54 665.53 L270.29 665.00 L270.95 664.55 L271.49 664.18 L271.90 663.90" stroke="#DF536B" stroke-width="0.7" stroke-opacity="0.85" fill="none" stroke-linejoin="round"/>
<path d="M56.00 692.20 L59.58 692.08 L64.44 691.93 L70.25 691.74 L76.67 691.54 L83.36 691.32 L90.00 691.10 L96.93 690.88 L104.48 690.66 L112.31 690.43 L120.07 690.18 L127.42 689.91 L134.00 689.60 L139.72 689.24 L144.85 688.84 L149.56 688.41 L154.04 687.97 L158.46 687.56 L163.00 687.20 L167.58 686.88 L172.04 686.57 L176.44 686.29 L180.85 686.04 L185.35 685.81 L190.00 685.60 L194.83 685.42 L199.78 685.26 L204.81 685.12 L209.89 685.01 L214.97 684.94 L220.00 684.90 L225.21 684.92 L230.67 684.99 L236.12 685.09 L241.33 685.21 L246.04 685.32 L250.00 685.40 L253.08 685.51 L255.45 685.66 L257.32 685.81 L258.90 685.89 L260.39 685.84 L262.00 685.60 L263.71 685.12 L265.34 684.45 L266.88 683.65 L268.33 682.78 L269.67 681.91 L270.90 681.10 L271.97 680.36 L272.88 679.63 L273.69 678.91 L274.44 678.16 L275.19 677.36 L276.00 676.50 L276.87 675.56 L277.76 674.56 L278.64 673.51 L279.51 672.44 L280.34 671.36 L281.10 670.30 L281.83 669.17 L282.54 667.94 L283.22 666.71 L283.82 665.57 L284.33 664.60 L284.70 663.90" stroke="#DF536B" stroke-width="0.7" stroke-opacity="0.85" fill="none" stroke-linejoin="round"/>
<path d="M56.00 701.10 L59.58 700.98 L64.44 700.83 L70.25 700.64 L76.67 700.42 L83.36 700.17 L90.00 699.90 L97.08 699.60 L104.96 699.28 L113.12 698.93 L121.04 698.55 L128.17 698.14 L134.00 697.70 L138.32 697.21 L141.52 696.69 L143.94 696.12 L145.93 695.55 L147.83 694.97 L150.00 694.40 L152.24 693.89 L154.22 693.44 L156.12 692.99 L158.11 692.48 L160.35 691.83 L163.00 691.00 L166.23 689.89 L169.93 688.54 L173.88 687.07 L177.85 685.58 L181.63 684.18 L185.00 683.00 L187.85 682.04 L190.33 681.23 L192.62 680.51 L194.89 679.85 L197.29 679.19 L200.00 678.50 L203.09 677.78 L206.44 677.06 L209.94 676.36 L213.44 675.66 L216.84 674.97 L220.00 674.30 L222.98 673.63 L225.88 672.96 L228.67 672.29 L231.31 671.66 L233.77 671.05 L236.00 670.50 L237.94 670.03 L239.60 669.63 L241.07 669.27 L242.46 668.90 L243.83 668.49 L245.30 668.00 L246.95 667.36 L248.71 666.60 L250.48 665.79 L252.12 665.02 L253.50 664.36 L254.50 663.90" stroke="#CD0BBC" stroke-width="0.7" stroke-opacity="0.85" fill="none" stroke-linejoin="round"/>
<path d="M56.00 716.50 L60.72 716.47 L67.19 716.42 L74.88 716.36 L83.26 716.30 L91.81 716.25 L100.00 716.20 L108.47 716.16 L117.76 716.13 L127.21 716.10 L136.18 716.07 L143.99 716.04 L150.00 716.00 L153.82 715.99 L155.90 716.01 L156.84 716.04 L157.21 716.02 L157.60 715.92 L158.60 715.70 L160.12 715.34 L161.67 714.87 L163.24 714.33 L164.82 713.73 L166.41 713.11 L168.00 712.50 L169.56 711.90 L171.08 711.27 L172.61 710.62 L174.19 709.96 L175.84 709.29 L177.60 708.60 L179.47 707.88 L181.43 707.11 L183.46 706.33 L185.57 705.56 L187.75 704.84 L190.00 704.20 L192.35 703.66 L194.81 703.21 L197.34 702.80 L199.90 702.40 L202.47 701.98 L205.00 701.50 L207.50 700.98 L210.00 700.47 L212.50 699.93 L215.00 699.34 L217.50 698.67 L220.00 697.90 L222.54 697.00 L225.13 695.99 L227.72 694.89 L230.27 693.76 L232.71 692.62 L235.00 691.50 L237.15 690.43 L239.19 689.39 L241.13 688.34 L242.98 687.24 L244.73 686.08 L246.40 684.80 L247.95 683.41 L249.37 681.94 L250.69 680.40 L251.97 678.79 L253.22 677.12 L254.50 675.40 L255.87 673.47 L257.32 671.30 L258.76 669.06 L260.08 666.96 L261.19 665.18 L262.00 663.90" stroke="#000000" stroke-width="0.7" stroke-opacity="0.85" fill="none" stroke-linejoin="round"/>
<path d="M56.00 718.40 L59.58 718.18 L64.44 717.94 L70.25 717.62 L76.67 717.16 L83.36 716.51 L90.00 715.60 L97.08 714.31 L104.96 712.65 L113.12 710.80 L121.04 708.91 L128.17 707.16 L134.00 705.70 L138.32 704.58 L141.52 703.67 L143.94 702.89 L145.93 702.16 L147.83 701.39 L150.00 700.50 L152.24 699.56 L154.22 698.66 L156.12 697.72 L158.11 696.67 L160.35 695.46 L163.00 694.00 L166.20 692.17 L169.83 689.99 L173.71 687.63 L177.66 685.28 L181.48 683.11 L185.00 681.30 L188.19 679.93 L191.20 678.88 L194.09 678.01 L196.91 677.18 L199.73 676.25 L202.60 675.10 L205.62 673.62 L208.76 671.92 L211.90 670.12 L214.90 668.36 L217.65 666.77 L220.00 665.50 L221.82 664.61 L223.18 664.01 L224.28 663.59 L225.31 663.23 L226.49 662.80 L228.00 662.20 L229.89 661.44 L231.99 660.61 L234.24 659.73 L236.54 658.78 L238.82 657.77 L241.00 656.70 L243.11 655.48 L245.24 654.08 L247.34 652.62 L249.39 651.21 L251.35 649.97 L253.20 649.00 L254.94 648.30 L256.60 647.77 L258.17 647.41 L259.67 647.20 L261.07 647.13 L262.40 647.20 L263.61 647.38 L264.69 647.68 L265.69 648.12 L266.65 648.73 L267.61 649.55 L268.60 650.60 L269.65 652.05 L270.73 653.93 L271.80 656.00 L272.84 658.06 L273.82 659.90 L274.70 661.30 L275.51 662.23 L276.28 662.86 L276.98 663.27 L277.60 663.53 L278.11 663.71 L278.50 663.90" stroke="#61D04F" stroke-width="0.7" stroke-opacity="0.85" fill="none" stroke-linejoin="round"/>
<path d="M56.00 734.30 L59.76 733.99 L65.00 733.57 L71.19 733.07 L77.78 732.50 L84.23 731.87 L90.00 731.20 L95.12 730.51 L100.02 729.78 L104.79 729.00 L109.49 728.14 L114.20 727.18 L119.00 726.10 L124.05 724.83 L129.32 723.36 L134.60 721.80 L139.68 720.23 L144.35 718.73 L148.40 717.40 L151.70 716.27 L154.39 715.29 L156.66 714.38 L158.73 713.48 L160.77 712.54 L163.00 711.50 L165.44 710.32 L167.93 709.03 L170.41 707.71 L172.80 706.39 L175.02 705.14 L177.00 704.00 L178.72 702.99 L180.22 702.06 L181.56 701.20 L182.78 700.38 L183.91 699.59 L185.00 698.80 L185.92 698.13 L186.61 697.63 L187.21 697.15 L187.88 696.56 L188.76 695.72 L190.00 694.50 L191.63 692.86 L193.56 690.91 L195.69 688.72 L197.96 686.34 L200.28 683.85 L202.60 681.30 L205.11 678.44 L207.92 675.17 L210.79 671.77 L213.48 668.57 L215.76 665.84 L217.40 663.90" stroke="#000000" stroke-width="0.7" stroke-opacity="0.85" fill="none" stroke-linejoin="round"/>
<path d="M56.00 772.40 L60.23 772.15 L66.21 771.81 L73.24 771.40 L80.59 770.96 L87.54 770.52 L93.40 770.10 L98.11 769.73 L102.24 769.39 L105.98 769.04 L109.52 768.67 L113.06 768.23 L116.80 767.70 L120.74 767.06 L124.73 766.33 L128.72 765.54 L132.67 764.72 L136.51 763.90 L140.20 763.10 L143.64 762.34 L146.86 761.60 L149.97 760.86 L153.12 760.09 L156.42 759.28 L160.00 758.40 L163.82 757.46 L167.78 756.49 L171.89 755.47 L176.19 754.40 L180.68 753.28 L185.40 752.10 L190.43 750.83 L195.76 749.47 L201.29 748.06 L206.93 746.63 L212.57 745.23 L218.10 743.90 L223.81 742.58 L229.83 741.21 L235.86 739.88 L241.57 738.64 L246.65 737.56 L250.80 736.70 L253.85 736.15 L256.01 735.88 L257.56 735.76 L258.73 735.69 L259.79 735.54 L261.00 735.20 L262.28 734.68 L263.41 734.07 L264.44 733.38 L265.39 732.63 L266.29 731.84 L267.20 731.00 L268.07 730.14 L268.88 729.23 L269.65 728.28 L270.41 727.27 L271.18 726.18 L272.00 725.00 L272.86 723.76 L273.75 722.47 L274.65 721.11 L275.56 719.64 L276.48 718.05 L277.40 716.30 L278.33 714.37 L279.29 712.28 L280.25 710.06 L281.20 707.75 L282.12 705.39 L283.00 703.00 L283.81 700.66 L284.55 698.36 L285.26 696.01 L285.99 693.50 L286.75 690.77 L287.60 687.70 L288.61 683.95 L289.78 679.51 L290.99 674.84 L292.13 670.39 L293.11 666.59 L293.80 663.90" stroke="#2297E6" stroke-width="0.7" stroke-opacity="0.85" fill="none" stroke-linejoin="round"/>
<path d="M56.00 788.80 L60.23 788.29 L66.21 787.58 L73.24 786.74 L80.59 785.84 L87.54 784.94 L93.40 784.10 L98.16 783.34 L102.41 782.62 L106.27 781.89 L109.87 781.14 L113.33 780.32 L116.80 779.40 L120.24 778.35 L123.56 777.19 L126.74 775.97 L129.79 774.73 L132.71 773.52 L135.50 772.40 L138.15 771.38 L140.64 770.44 L143.01 769.52 L145.27 768.61 L147.42 767.65 L149.50 766.60 L151.52 765.42 L153.46 764.11 L155.31 762.77 L157.04 761.45 L158.61 760.24 L160.00 759.20 L160.97 758.51 L161.50 758.14 L161.88 757.87 L162.40 757.49 L163.34 756.77 L165.00 755.50 L167.51 753.51 L170.66 750.95 L174.23 748.06 L178.02 745.07 L181.82 742.24 L185.40 739.80 L188.81 737.81 L192.23 736.07 L195.65 734.49 L199.07 732.95 L202.49 731.36 L205.90 729.60 L209.39 727.67 L212.99 725.66 L216.59 723.58 L220.07 721.48 L223.35 719.37 L226.30 717.30 L228.88 715.27 L231.15 713.27 L233.21 711.27 L235.15 709.24 L237.05 707.16 L239.00 705.00 L240.99 702.74 L242.94 700.41 L244.85 698.02 L246.73 695.61 L248.58 693.19 L250.40 690.80 L252.21 688.39 L254.00 685.93 L255.76 683.47 L257.47 681.05 L259.12 678.71 L260.70 676.50 L262.25 674.33 L263.78 672.14 L265.26 670.04 L266.62 668.11 L267.82 666.47 L268.80 665.20 L269.53 664.39 L270.05 663.98 L270.41 663.84 L270.65 663.87 L270.83 663.93 L271.00 663.90" stroke="#DF536B" stroke-width="0.7" stroke-opacity="0.85" fill="none" stroke-linejoin="round"/>
<rect x="46.6" y="567.4" width="257.2" height="229.1" fill="none" stroke="#333" stroke-width="0.9"/>
<line x1="42.00" y1="571.35" x2="46.60" y2="571.35" stroke="#333" stroke-width="0.9"/>
<text x="36.40" y="571.35" font-size="7.6" text-anchor="middle" class="F" fill="#000" transform="rotate(-90 36.4 571.35)">0.3</text>
<line x1="42.00" y1="602.20" x2="46.60" y2="602.20" stroke="#333" stroke-width="0.9"/>
<text x="36.40" y="602.20" font-size="7.6" text-anchor="middle" class="F" fill="#000" transform="rotate(-90 36.4 602.1999999999999)">0.2</text>
<line x1="42.00" y1="633.05" x2="46.60" y2="633.05" stroke="#333" stroke-width="0.9"/>
<text x="36.40" y="633.05" font-size="7.6" text-anchor="middle" class="F" fill="#000" transform="rotate(-90 36.4 633.05)">0.1</text>
<line x1="42.00" y1="663.90" x2="46.60" y2="663.90" stroke="#333" stroke-width="0.9"/>
<text x="36.40" y="663.90" font-size="7.6" text-anchor="middle" class="F" fill="#000" transform="rotate(-90 36.4 663.9)">0.0</text>
<line x1="42.00" y1="694.75" x2="46.60" y2="694.75" stroke="#333" stroke-width="0.9"/>
<text x="36.40" y="694.75" font-size="7.6" text-anchor="middle" class="F" fill="#000" transform="rotate(-90 36.4 694.75)">−0.1</text>
<line x1="42.00" y1="725.60" x2="46.60" y2="725.60" stroke="#333" stroke-width="0.9"/>
<text x="36.40" y="725.60" font-size="7.6" text-anchor="middle" class="F" fill="#000" transform="rotate(-90 36.4 725.6)">−0.2</text>
<line x1="42.00" y1="756.45" x2="46.60" y2="756.45" stroke="#333" stroke-width="0.9"/>
<text x="36.40" y="756.45" font-size="7.6" text-anchor="middle" class="F" fill="#000" transform="rotate(-90 36.4 756.4499999999999)">−0.3</text>
<line x1="42.00" y1="787.30" x2="46.60" y2="787.30" stroke="#333" stroke-width="0.9"/>
<text x="36.40" y="787.30" font-size="7.6" text-anchor="middle" class="F" fill="#000" transform="rotate(-90 36.4 787.3)">−0.4</text>
<text x="18.00" y="682.00" font-size="7.3" text-anchor="middle" class="F" fill="#000" transform="rotate(-90 18.0 682.0)">Coefficients</text>
<line x1="89.50" y1="796.50" x2="89.50" y2="801.20" stroke="#333" stroke-width="0.9"/>
<text x="89.50" y="813.60" font-size="7.6" text-anchor="middle" class="F" fill="#000">−6</text>
<line x1="89.50" y1="567.40" x2="89.50" y2="562.80" stroke="#333" stroke-width="0.9"/>
<line x1="137.80" y1="796.50" x2="137.80" y2="801.20" stroke="#333" stroke-width="0.9"/>
<text x="137.80" y="813.60" font-size="7.6" text-anchor="middle" class="F" fill="#000">−5</text>
<line x1="137.80" y1="567.40" x2="137.80" y2="562.80" stroke="#333" stroke-width="0.9"/>
<line x1="186.10" y1="796.50" x2="186.10" y2="801.20" stroke="#333" stroke-width="0.9"/>
<text x="186.10" y="813.60" font-size="7.6" text-anchor="middle" class="F" fill="#000">−4</text>
<line x1="186.10" y1="567.40" x2="186.10" y2="562.80" stroke="#333" stroke-width="0.9"/>
<line x1="234.40" y1="796.50" x2="234.40" y2="801.20" stroke="#333" stroke-width="0.9"/>
<text x="234.40" y="813.60" font-size="7.6" text-anchor="middle" class="F" fill="#000">−3</text>
<line x1="234.40" y1="567.40" x2="234.40" y2="562.80" stroke="#333" stroke-width="0.9"/>
<line x1="282.70" y1="796.50" x2="282.70" y2="801.20" stroke="#333" stroke-width="0.9"/>
<text x="282.70" y="813.60" font-size="7.6" text-anchor="middle" class="F" fill="#000">−2</text>
<line x1="282.70" y1="567.40" x2="282.70" y2="562.80" stroke="#333" stroke-width="0.9"/>
<text x="89.60" y="556.80" font-size="7.6" text-anchor="middle" class="F" fill="#000">21</text>
<text x="137.90" y="556.80" font-size="7.6" text-anchor="middle" class="F" fill="#000">21</text>
<text x="186.20" y="556.80" font-size="7.6" text-anchor="middle" class="F" fill="#000">18</text>
<text x="234.50" y="556.80" font-size="7.6" text-anchor="middle" class="F" fill="#000">13</text>
<text x="282.80" y="556.80" font-size="7.6" text-anchor="middle" class="F" fill="#000">3</text>
<text x="174.80" y="831.00" font-size="7.4" text-anchor="middle" class="F" fill="#000">Log Lambda</text>
<text x="50.80" y="576.60" font-size="3.4" text-anchor="middle" class="F" fill="#222">1</text>
<text x="50.80" y="583.20" font-size="3.4" text-anchor="middle" class="F" fill="#222">4</text>
<text x="50.80" y="587.60" font-size="3.4" text-anchor="middle" class="F" fill="#222">12</text>
<text x="50.80" y="615.50" font-size="3.4" text-anchor="middle" class="F" fill="#222">18</text>
<text x="50.80" y="633.00" font-size="3.4" text-anchor="middle" class="F" fill="#222">22</text>
<text x="50.80" y="645.90" font-size="3.4" text-anchor="middle" class="F" fill="#222">5</text>
<text x="50.80" y="648.40" font-size="3.4" text-anchor="middle" class="F" fill="#222">3</text>
<text x="50.80" y="660.60" font-size="3.4" text-anchor="middle" class="F" fill="#222">3</text>
<text x="50.80" y="666.40" font-size="3.4" text-anchor="middle" class="F" fill="#222">16</text>
<text x="50.80" y="678.80" font-size="3.4" text-anchor="middle" class="F" fill="#222">17</text>
<text x="50.80" y="690.90" font-size="3.4" text-anchor="middle" class="F" fill="#222">6</text>
<text x="50.80" y="693.40" font-size="3.4" text-anchor="middle" class="F" fill="#222">8</text>
<text x="50.80" y="702.30" font-size="3.4" text-anchor="middle" class="F" fill="#222">17</text>
<text x="50.80" y="717.70" font-size="3.4" text-anchor="middle" class="F" fill="#222">7</text>
<text x="50.80" y="719.60" font-size="3.4" text-anchor="middle" class="F" fill="#222">2</text>
<text x="50.80" y="735.50" font-size="3.4" text-anchor="middle" class="F" fill="#222">19</text>
<text x="50.80" y="773.60" font-size="3.4" text-anchor="middle" class="F" fill="#222">18</text>
<text x="50.80" y="790.00" font-size="3.4" text-anchor="middle" class="F" fill="#222">14</text>
<text x="351.20" y="554.70" font-size="11" text-anchor="start" class="F" fill="#000">F</text>
<path d="M400.70 575.50V752.30M398.20 575.50H403.20M398.20 752.30H403.20M405.19 576.40V752.40M402.69 576.40H407.69M402.69 752.40H407.69M409.68 577.62V752.78M407.18 577.62H412.18M407.18 752.78H412.18M414.18 578.64V753.16M411.68 578.64H416.68M411.68 753.16H416.68M418.67 579.61V753.79M416.17 579.61H421.17M416.17 753.79H421.17M423.16 580.54V754.86M420.66 580.54H425.66M420.66 754.86H425.66M427.65 581.68V755.12M425.15 581.68H430.15M425.15 755.12H430.15M432.15 583.10V755.70M429.65 583.10H434.65M429.65 755.70H434.65M436.64 584.40V756.20M434.14 584.40H439.14M434.14 756.20H439.14M441.13 585.75V757.05M438.63 585.75H443.63M438.63 757.05H443.63M445.62 587.39V758.21M443.12 587.39H448.12M443.12 758.21H448.12M450.12 589.15V759.05M447.62 589.15H452.62M447.62 759.05H452.62M454.61 591.10V759.70M452.11 591.10H457.11M452.11 759.70H457.11M459.10 593.15V760.85M456.60 593.15H461.60M456.60 760.85H461.60M463.59 595.33V761.67M461.09 595.33H466.09M461.09 761.67H466.09M468.09 597.35V763.05M465.59 597.35H470.59M465.59 763.05H470.59M472.58 599.71V764.09M470.08 599.71H475.08M470.08 764.09H475.08M477.07 602.45V765.55M474.57 602.45H479.57M474.57 765.55H479.57M481.56 605.42V766.78M479.06 605.42H484.06M479.06 766.78H484.06M486.06 608.57V768.03M483.56 608.57H488.56M483.56 768.03H488.56M490.55 611.60V770.00M488.05 611.60H493.05M488.05 770.00H493.05M495.04 615.10V771.90M492.54 615.10H497.54M492.54 771.90H497.54M499.53 618.12V773.68M497.03 618.12H502.03M497.03 773.68H502.03M504.03 620.64V776.16M501.53 620.64H506.53M501.53 776.16H506.53M508.52 623.49V777.91M506.02 623.49H511.02M506.02 777.91H511.02M513.01 626.39V779.61M510.51 626.39H515.51M510.51 779.61H515.51M517.50 628.48V781.52M515.00 628.48H520.00M515.00 781.52H520.00M522.00 631.10V783.10M519.50 631.10H524.50M519.50 783.10H524.50M526.49 633.35V785.65M523.99 633.35H528.99M523.99 785.65H528.99M530.98 635.37V787.43M528.48 635.37H533.48M528.48 787.43H533.48M535.47 636.43V788.57M532.97 636.43H537.97M532.97 788.57H537.97M539.97 636.50V789.70M537.47 636.50H542.47M537.47 789.70H542.47M544.46 636.13V789.27M541.96 636.13H546.96M541.96 789.27H546.96M548.95 635.31V788.09M546.45 635.31H551.45M546.45 788.09H551.45M553.44 634.50V786.70M550.94 634.50H555.94M550.94 786.70H555.94M557.94 633.00V786.00M555.44 633.00H560.44M555.44 786.00H560.44M562.43 631.93V785.47M559.93 631.93H564.93M559.93 785.47H564.93M566.92 631.45V785.55M564.42 631.45H569.42M564.42 785.55H569.42M571.41 630.44V785.76M568.91 630.44H573.91M568.91 785.76H573.91M575.91 629.61V785.19M573.41 629.61H578.41M573.41 785.19H578.41M580.40 628.77V784.03M577.90 628.77H582.90M577.90 784.03H582.90M584.89 627.25V782.95M582.39 627.25H587.39M582.39 782.95H587.39M589.38 625.45V781.75M586.88 625.45H591.88M586.88 781.75H591.88M593.88 623.13V780.27M591.38 623.13H596.38M591.38 780.27H596.38M598.37 620.31V778.49M595.87 620.31H600.87M595.87 778.49H600.87M602.86 617.97V777.43M600.36 617.97H605.36M600.36 777.43H605.36M607.35 614.63V776.17M604.85 614.63H609.85M604.85 776.17H609.85M611.85 611.83V773.37M609.35 611.83H614.35M609.35 773.37H614.35M616.34 607.47V770.53M613.84 607.47H618.84M613.84 770.53H618.84M620.83 602.36V766.44M618.33 602.36H623.33M618.33 766.44H623.33M625.32 596.22V761.18M622.82 596.22H627.82M622.82 761.18H627.82M629.82 588.55V754.45M627.32 588.55H632.32M627.32 754.45H632.32M634.31 582.56V746.44M631.81 582.56H636.81M631.81 746.44H636.81M638.80 577.40V740.20M636.30 577.40H641.30M636.30 740.20H641.30" stroke="#BABABA" stroke-width="0.9" fill="none"/>
<line x1="539.95" y1="567.40" x2="539.95" y2="797.00" stroke="#666" stroke-width="0.9" stroke-dasharray="1.9 1.7"/>
<line x1="638.80" y1="567.40" x2="638.80" y2="797.00" stroke="#666" stroke-width="0.9" stroke-dasharray="1.9 1.7"/>
<circle cx="400.70" cy="663.90" r="1.3" fill="#E00000"/>
<circle cx="405.19" cy="664.40" r="1.3" fill="#E00000"/>
<circle cx="409.68" cy="665.20" r="1.3" fill="#E00000"/>
<circle cx="414.18" cy="665.90" r="1.3" fill="#E00000"/>
<circle cx="418.67" cy="666.70" r="1.3" fill="#E00000"/>
<circle cx="423.16" cy="667.70" r="1.3" fill="#E00000"/>
<circle cx="427.65" cy="668.40" r="1.3" fill="#E00000"/>
<circle cx="432.15" cy="669.40" r="1.3" fill="#E00000"/>
<circle cx="436.64" cy="670.30" r="1.3" fill="#E00000"/>
<circle cx="441.13" cy="671.40" r="1.3" fill="#E00000"/>
<circle cx="445.62" cy="672.80" r="1.3" fill="#E00000"/>
<circle cx="450.12" cy="674.10" r="1.3" fill="#E00000"/>
<circle cx="454.61" cy="675.40" r="1.3" fill="#E00000"/>
<circle cx="459.10" cy="677.00" r="1.3" fill="#E00000"/>
<circle cx="463.59" cy="678.50" r="1.3" fill="#E00000"/>
<circle cx="468.09" cy="680.20" r="1.3" fill="#E00000"/>
<circle cx="472.58" cy="681.90" r="1.3" fill="#E00000"/>
<circle cx="477.07" cy="684.00" r="1.3" fill="#E00000"/>
<circle cx="481.56" cy="686.10" r="1.3" fill="#E00000"/>
<circle cx="486.06" cy="688.30" r="1.3" fill="#E00000"/>
<circle cx="490.55" cy="690.80" r="1.3" fill="#E00000"/>
<circle cx="495.04" cy="693.50" r="1.3" fill="#E00000"/>
<circle cx="499.53" cy="695.90" r="1.3" fill="#E00000"/>
<circle cx="504.03" cy="698.40" r="1.3" fill="#E00000"/>
<circle cx="508.52" cy="700.70" r="1.3" fill="#E00000"/>
<circle cx="513.01" cy="703.00" r="1.3" fill="#E00000"/>
<circle cx="517.50" cy="705.00" r="1.3" fill="#E00000"/>
<circle cx="522.00" cy="707.10" r="1.3" fill="#E00000"/>
<circle cx="526.49" cy="709.50" r="1.3" fill="#E00000"/>
<circle cx="530.98" cy="711.40" r="1.3" fill="#E00000"/>
<circle cx="535.47" cy="712.50" r="1.3" fill="#E00000"/>
<circle cx="539.97" cy="713.10" r="1.3" fill="#E00000"/>
<circle cx="544.46" cy="712.70" r="1.3" fill="#E00000"/>
<circle cx="548.95" cy="711.70" r="1.3" fill="#E00000"/>
<circle cx="553.44" cy="710.60" r="1.3" fill="#E00000"/>
<circle cx="557.94" cy="709.50" r="1.3" fill="#E00000"/>
<circle cx="562.43" cy="708.70" r="1.3" fill="#E00000"/>
<circle cx="566.92" cy="708.50" r="1.3" fill="#E00000"/>
<circle cx="571.41" cy="708.10" r="1.3" fill="#E00000"/>
<circle cx="575.91" cy="707.40" r="1.3" fill="#E00000"/>
<circle cx="580.40" cy="706.40" r="1.3" fill="#E00000"/>
<circle cx="584.89" cy="705.10" r="1.3" fill="#E00000"/>
<circle cx="589.38" cy="703.60" r="1.3" fill="#E00000"/>
<circle cx="593.88" cy="701.70" r="1.3" fill="#E00000"/>
<circle cx="598.37" cy="699.40" r="1.3" fill="#E00000"/>
<circle cx="602.86" cy="697.70" r="1.3" fill="#E00000"/>
<circle cx="607.35" cy="695.40" r="1.3" fill="#E00000"/>
<circle cx="611.85" cy="692.60" r="1.3" fill="#E00000"/>
<circle cx="616.34" cy="689.00" r="1.3" fill="#E00000"/>
<circle cx="620.83" cy="684.40" r="1.3" fill="#E00000"/>
<circle cx="625.32" cy="678.70" r="1.3" fill="#E00000"/>
<circle cx="629.82" cy="671.50" r="1.3" fill="#E00000"/>
<circle cx="634.31" cy="664.50" r="1.3" fill="#E00000"/>
<circle cx="638.80" cy="658.80" r="1.3" fill="#E00000"/>
<rect x="391.2" y="567.2" width="257.4" height="229.7" fill="none" stroke="#333" stroke-width="0.9"/>
<line x1="386.60" y1="785.96" x2="391.20" y2="785.96" stroke="#333" stroke-width="0.9"/>
<text x="381.60" y="785.96" font-size="7.2" text-anchor="middle" class="F" fill="#000" transform="rotate(-90 381.6 785.96)">10.6</text>
<line x1="386.60" y1="729.63" x2="391.20" y2="729.63" stroke="#333" stroke-width="0.9"/>
<text x="381.60" y="729.63" font-size="7.2" text-anchor="middle" class="F" fill="#000" transform="rotate(-90 381.6 729.6299999999998)">10.8</text>
<line x1="386.60" y1="673.30" x2="391.20" y2="673.30" stroke="#333" stroke-width="0.9"/>
<text x="381.60" y="673.30" font-size="7.2" text-anchor="middle" class="F" fill="#000" transform="rotate(-90 381.6 673.3)">11.0</text>
<line x1="386.60" y1="616.97" x2="391.20" y2="616.97" stroke="#333" stroke-width="0.9"/>
<text x="381.60" y="616.97" font-size="7.2" text-anchor="middle" class="F" fill="#000" transform="rotate(-90 381.6 616.9700000000001)">11.2</text>
<text x="363.20" y="682.30" font-size="7.3" text-anchor="middle" class="F" fill="#000" transform="rotate(-90 363.2 682.3)">Partial Likelihood Deviance</text>
<line x1="434.60" y1="796.90" x2="434.60" y2="801.60" stroke="#333" stroke-width="0.9"/>
<text x="434.60" y="813.40" font-size="7.2" text-anchor="middle" class="F" fill="#000">−6</text>
<line x1="483.00" y1="796.90" x2="483.00" y2="801.60" stroke="#333" stroke-width="0.9"/>
<text x="483.00" y="813.40" font-size="7.2" text-anchor="middle" class="F" fill="#000">−5</text>
<line x1="531.40" y1="796.90" x2="531.40" y2="801.60" stroke="#333" stroke-width="0.9"/>
<text x="531.40" y="813.40" font-size="7.2" text-anchor="middle" class="F" fill="#000">−4</text>
<line x1="579.80" y1="796.90" x2="579.80" y2="801.60" stroke="#333" stroke-width="0.9"/>
<text x="579.80" y="813.40" font-size="7.2" text-anchor="middle" class="F" fill="#000">−3</text>
<line x1="628.20" y1="796.90" x2="628.20" y2="801.60" stroke="#333" stroke-width="0.9"/>
<text x="628.20" y="813.40" font-size="7.2" text-anchor="middle" class="F" fill="#000">−2</text>
<text x="519.80" y="830.00" font-size="7.3" text-anchor="middle" class="F" fill="#000">Log(<tspan font-style="italic">λ</tspan>)</text>
<text x="400.70" y="556.50" font-size="7.3" text-anchor="middle" class="F" fill="#000">22</text>
<text x="418.67" y="556.50" font-size="7.3" text-anchor="middle" class="F" fill="#000">22</text>
<text x="436.64" y="556.50" font-size="7.3" text-anchor="middle" class="F" fill="#000">21</text>
<text x="454.61" y="556.50" font-size="7.3" text-anchor="middle" class="F" fill="#000">21</text>
<text x="472.58" y="556.50" font-size="7.3" text-anchor="middle" class="F" fill="#000">21</text>
<text x="490.55" y="556.50" font-size="7.3" text-anchor="middle" class="F" fill="#000">20</text>
<text x="508.52" y="556.50" font-size="7.3" text-anchor="middle" class="F" fill="#000">18</text>
<text x="526.49" y="556.50" font-size="7.3" text-anchor="middle" class="F" fill="#000">18</text>
<text x="544.46" y="556.50" font-size="7.3" text-anchor="middle" class="F" fill="#000">16</text>
<text x="562.43" y="556.50" font-size="7.3" text-anchor="middle" class="F" fill="#000">14</text>
<text x="580.40" y="556.50" font-size="7.3" text-anchor="middle" class="F" fill="#000">14</text>
<text x="598.37" y="556.50" font-size="7.3" text-anchor="middle" class="F" fill="#000">11</text>
<text x="611.85" y="556.50" font-size="7.3" text-anchor="middle" class="F" fill="#000">8</text>
<text x="625.32" y="556.50" font-size="7.3" text-anchor="middle" class="F" fill="#000">3</text>
<text x="638.80" y="556.50" font-size="7.3" text-anchor="middle" class="F" fill="#000">0</text>
</svg></body></html>
